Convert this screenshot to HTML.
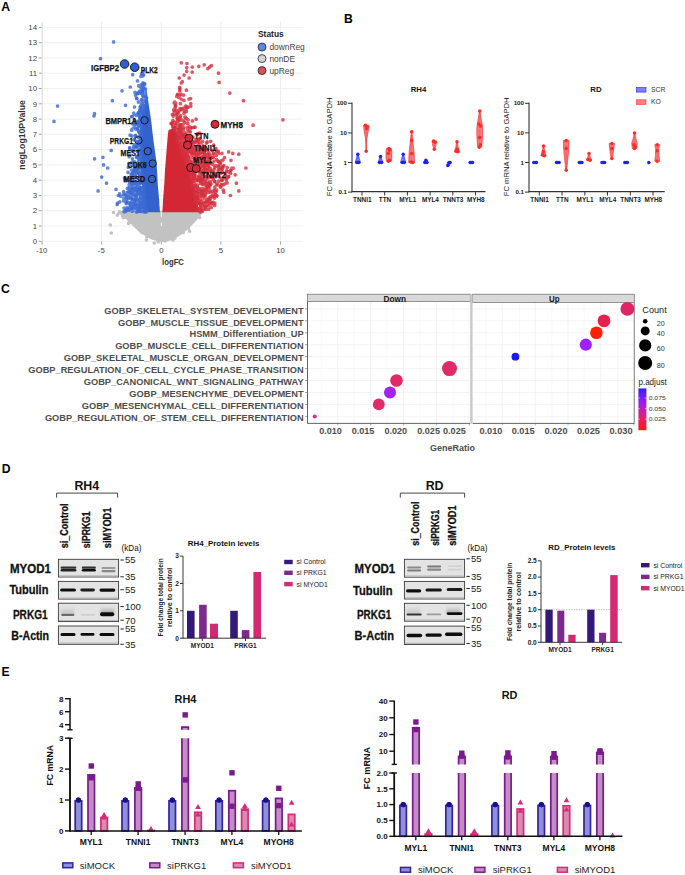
<!DOCTYPE html>
<html><head><meta charset="utf-8"><style>
html,body{margin:0;padding:0;background:#fff;overflow:hidden}
svg{display:block;font-family:"Liberation Sans",sans-serif}
</style></head><body>
<svg width="685" height="875" viewBox="0 0 685 875">
<text x="1.2" y="11.1" font-size="12.2" font-weight="bold">A</text>
<line x1="42" y1="241.3" x2="303" y2="241.3" stroke="#efefef" stroke-width="0.9"/>
<line x1="42" y1="226" x2="303" y2="226" stroke="#efefef" stroke-width="0.9"/>
<line x1="42" y1="210.7" x2="303" y2="210.7" stroke="#efefef" stroke-width="0.9"/>
<line x1="42" y1="195.5" x2="303" y2="195.5" stroke="#efefef" stroke-width="0.9"/>
<line x1="42" y1="180.2" x2="303" y2="180.2" stroke="#efefef" stroke-width="0.9"/>
<line x1="42" y1="164.9" x2="303" y2="164.9" stroke="#efefef" stroke-width="0.9"/>
<line x1="42" y1="149.6" x2="303" y2="149.6" stroke="#efefef" stroke-width="0.9"/>
<line x1="42" y1="134.3" x2="303" y2="134.3" stroke="#efefef" stroke-width="0.9"/>
<line x1="42" y1="119.1" x2="303" y2="119.1" stroke="#efefef" stroke-width="0.9"/>
<line x1="42" y1="103.8" x2="303" y2="103.8" stroke="#efefef" stroke-width="0.9"/>
<line x1="42" y1="88.5" x2="303" y2="88.5" stroke="#efefef" stroke-width="0.9"/>
<line x1="42" y1="73.2" x2="303" y2="73.2" stroke="#efefef" stroke-width="0.9"/>
<line x1="42" y1="57.9" x2="303" y2="57.9" stroke="#efefef" stroke-width="0.9"/>
<line x1="42" y1="42.7" x2="303" y2="42.7" stroke="#efefef" stroke-width="0.9"/>
<line x1="42" y1="27.4" x2="303" y2="27.4" stroke="#efefef" stroke-width="0.9"/>
<line x1="42.1" y1="22" x2="42.1" y2="241.3" stroke="#ececec" stroke-width="0.9"/>
<line x1="101.7" y1="22" x2="101.7" y2="241.3" stroke="#ececec" stroke-width="0.9"/>
<line x1="161.3" y1="22" x2="161.3" y2="241.3" stroke="#ececec" stroke-width="0.9"/>
<line x1="220.9" y1="22" x2="220.9" y2="241.3" stroke="#ececec" stroke-width="0.9"/>
<line x1="280.5" y1="22" x2="280.5" y2="241.3" stroke="#ececec" stroke-width="0.9"/>
<line x1="42.3" y1="22" x2="42.3" y2="241.8" stroke="#dedede" stroke-width="0.9"/>
<line x1="38.7" y1="241.3" x2="41.7" y2="241.3" stroke="#999" stroke-width="0.9"/>
<text x="37" y="244" font-size="7.8" text-anchor="end" fill="#444">0</text>
<line x1="38.7" y1="226" x2="41.7" y2="226" stroke="#999" stroke-width="0.9"/>
<text x="37" y="228.7" font-size="7.8" text-anchor="end" fill="#444">1</text>
<line x1="38.7" y1="210.7" x2="41.7" y2="210.7" stroke="#999" stroke-width="0.9"/>
<text x="37" y="213.4" font-size="7.8" text-anchor="end" fill="#444">2</text>
<line x1="38.7" y1="195.5" x2="41.7" y2="195.5" stroke="#999" stroke-width="0.9"/>
<text x="37" y="198.1" font-size="7.8" text-anchor="end" fill="#444">3</text>
<line x1="38.7" y1="180.2" x2="41.7" y2="180.2" stroke="#999" stroke-width="0.9"/>
<text x="37" y="182.9" font-size="7.8" text-anchor="end" fill="#444">4</text>
<line x1="38.7" y1="164.9" x2="41.7" y2="164.9" stroke="#999" stroke-width="0.9"/>
<text x="37" y="167.6" font-size="7.8" text-anchor="end" fill="#444">5</text>
<line x1="38.7" y1="149.6" x2="41.7" y2="149.6" stroke="#999" stroke-width="0.9"/>
<text x="37" y="152.3" font-size="7.8" text-anchor="end" fill="#444">6</text>
<line x1="38.7" y1="134.3" x2="41.7" y2="134.3" stroke="#999" stroke-width="0.9"/>
<text x="37" y="137" font-size="7.8" text-anchor="end" fill="#444">7</text>
<line x1="38.7" y1="119.1" x2="41.7" y2="119.1" stroke="#999" stroke-width="0.9"/>
<text x="37" y="121.7" font-size="7.8" text-anchor="end" fill="#444">8</text>
<line x1="38.7" y1="103.8" x2="41.7" y2="103.8" stroke="#999" stroke-width="0.9"/>
<text x="37" y="106.5" font-size="7.8" text-anchor="end" fill="#444">9</text>
<line x1="38.7" y1="88.5" x2="41.7" y2="88.5" stroke="#999" stroke-width="0.9"/>
<text x="37" y="91.2" font-size="7.8" text-anchor="end" fill="#444">10</text>
<line x1="38.7" y1="73.2" x2="41.7" y2="73.2" stroke="#999" stroke-width="0.9"/>
<text x="37" y="75.9" font-size="7.8" text-anchor="end" fill="#444">11</text>
<line x1="38.7" y1="57.9" x2="41.7" y2="57.9" stroke="#999" stroke-width="0.9"/>
<text x="37" y="60.6" font-size="7.8" text-anchor="end" fill="#444">12</text>
<line x1="38.7" y1="42.7" x2="41.7" y2="42.7" stroke="#999" stroke-width="0.9"/>
<text x="37" y="45.3" font-size="7.8" text-anchor="end" fill="#444">13</text>
<line x1="38.7" y1="27.4" x2="41.7" y2="27.4" stroke="#999" stroke-width="0.9"/>
<text x="37" y="30.1" font-size="7.8" text-anchor="end" fill="#444">14</text>
<line x1="42.1" y1="241.6" x2="42.1" y2="244.6" stroke="#999" stroke-width="0.9"/>
<text x="41.7" y="253.1" font-size="7.8" text-anchor="middle" fill="#444">-10</text>
<line x1="101.7" y1="241.6" x2="101.7" y2="244.6" stroke="#999" stroke-width="0.9"/>
<text x="101.3" y="253.1" font-size="7.8" text-anchor="middle" fill="#444">-5</text>
<line x1="161.3" y1="241.6" x2="161.3" y2="244.6" stroke="#999" stroke-width="0.9"/>
<text x="161.3" y="253.1" font-size="7.8" text-anchor="middle" fill="#444">0</text>
<line x1="220.9" y1="241.6" x2="220.9" y2="244.6" stroke="#999" stroke-width="0.9"/>
<text x="220.9" y="253.1" font-size="7.8" text-anchor="middle" fill="#444">5</text>
<line x1="280.5" y1="241.6" x2="280.5" y2="244.6" stroke="#999" stroke-width="0.9"/>
<text x="280.5" y="253.1" font-size="7.8" text-anchor="middle" fill="#444">10</text>
<text x="173" y="264.9" font-size="8.4" text-anchor="middle" font-weight="bold" fill="#333" textLength="21.9" lengthAdjust="spacingAndGlyphs">logFC</text>
<text x="22" y="137.8" font-size="8.4" text-anchor="middle" font-weight="bold" fill="#333" textLength="69.5" lengthAdjust="spacingAndGlyphs" transform="rotate(-90 22 134.9)">negLog10PValue</text>
<polygon points="118,212.5 121,215 125.3,218.5 133,226 140.7,233.5 151.4,239.6 161.3,242.3 168.2,241.2 175.9,238.1 186.6,230.5 195.8,221.2 202,214 203,211 118,211" fill="#c2c2c2"/>
<line x1="161.3" y1="212" x2="161.3" y2="226" stroke="#fff" stroke-width="0.9"/>
<path d="M173 234.2h0M158 215.4h0M165.3 227.8h0M190.1 211.3h0M178.4 213.8h0M199.6 217.4h0M128.3 211.5h0M142.9 224.3h0M189.2 219.9h0M146.8 225.9h0M145.4 229.2h0M165.4 217.9h0M143 212.7h0M119.7 211.7h0M151.8 215h0M170.2 237.4h0M156.7 222h0M160.4 237.9h0M173.8 235.9h0M194.8 217.2h0M183.5 224.2h0M140.5 221.3h0M147.4 235.9h0M186.4 219.8h0M181 216.7h0M159.6 235.3h0M179.7 217.2h0M177.8 223.6h0M146.1 230.5h0M163.9 212.3h0M179.8 233.3h0M183.6 212.5h0M188.5 228.1h0M177.2 222h0M173.1 235.4h0M174.4 233.4h0M155.2 230.7h0M143.1 212.9h0M157.6 220.5h0M172 228.4h0M151.7 216.6h0M193.5 220.2h0M165.4 218.9h0M153.1 236.9h0M174.9 220h0M146.4 240h0M148.8 222.4h0M134.2 217.1h0M140.1 224.1h0M138.2 211.9h0M158.5 230.5h0M171.2 234.3h0M164.3 218.8h0M141.1 226.1h0M157.5 219.7h0M185 228.5h0M168.4 232.9h0M174 224.3h0M195.5 213.5h0M160.8 218.6h0M189.6 231.2h0M194.5 214.3h0M125.2 217.1h0M202 211.7h0M171.8 221.7h0M198.1 211.1h0M154.3 218h0M170.8 224.6h0M180.3 211.7h0M173.9 225.2h0M137.8 227h0M125.1 214.9h0M148.4 234h0M135 218.7h0M172.1 219.2h0M149.8 211.2h0M154.5 238.4h0M162.7 228.5h0M168.2 234.1h0M172.7 222.3h0M127.2 212h0M148.7 220.7h0M198.3 211.8h0M136.9 216.5h0M127.8 216.9h0M135 224.3h0M158.2 241.9h0M177.5 217.1h0M178.1 233.7h0M128 213.6h0M142.6 223.8h0M128 215.1h0M154.2 243.1h0M162.9 219.3h0M117.3 215.3h0M137 221.5h0M161.8 221.3h0M165.1 241h0M170.6 238.6h0M164.9 224.5h0M168 220.3h0M173.3 233.6h0M193 214.5h0M123.3 217.8h0M154 227.9h0M131.6 216.9h0M153.2 217.9h0M185.7 227.1h0M168.3 222.8h0M183.3 232.6h0M128.6 216h0M178.2 216.8h0M154 219.8h0M169.3 237.4h0M164 212.5h0M181.5 223h0M154.5 222.8h0M191.8 221.9h0M168.5 224.3h0M139.2 213.6h0M167.1 219.6h0M185.6 215.2h0M146.5 215.4h0M172.6 221.2h0M190.4 220.3h0M130.1 220.8h0M142.6 220.5h0M158.7 232.7h0M164.6 236.3h0M147.6 228.6h0M178.6 225.8h0M150.2 212.8h0M172.1 220.7h0M182.1 220.2h0M198.9 214.1h0M141.9 216.2h0M173 240.1h0M174 235.1h0M167.5 237.6h0M153.7 226.1h0M167.1 228.9h0M130 213.2h0M170.3 230.6h0M179.6 233.7h0M121.9 213.4h0M118.3 213.8h0M157 231.9h0M151.5 226.7h0M170.5 220.2h0M179 224.8h0M140.5 225h0M141 218.8h0M153.2 215h0M146.9 236.8h0M149.5 225.6h0M155.4 223.9h0M179.3 225.3h0M154.6 228.6h0M187.4 221.7h0M199.4 211.6h0M188.5 222h0M153.3 216.3h0M158 216.9h0M128.6 223.4h0M125.4 215h0M130.1 222.3h0M188 211.8h0M175.1 220.2h0M148.1 224.2h0M167.7 216h0M165.4 233.8h0M161.4 229.2h0M149.8 219.1h0M163.9 233.1h0M141.6 212.3h0M156 234h0M163.8 220.8h0M193.3 211.2h0M146.4 224.8h0M167.5 213.9h0M173.6 215.3h0M199.9 212.7h0M184.5 227.3h0M182.7 229.2h0M172 214.4h0M175 238.1h0M186.3 225.6h0M133.2 216h0M153.7 229.6h0M175.8 212.6h0M155.8 227.8h0M201.4 211.5h0M138.2 224.8h0M164.5 240.2h0M166.4 231.2h0M153.1 235.8h0M193.9 217.2h0M122.6 215.8h0M173.7 230.3h0M187.4 218.8h0M113.5 212.5h0M110.3 225h0M111.3 233h0" stroke="#c2c2c2" stroke-width="3.6" stroke-linecap="round" stroke-opacity="1" fill="none"/>
<polygon points="160,212.3 159.4,205 159.2,200 158.7,195 158.3,190 157.8,185 157.5,180 157.3,175 157,170 156.6,165 156.2,160 155.5,155 154.8,150 154.1,145 153.4,140 152.8,135 152.2,130 151.7,125 151.1,120 150.3,115 149.6,110 148.8,105 148,100 147.3,95 146.6,90 146,85 145.5,80 145.5,80 146,85 146.2,90 146.1,95 146,100 144.6,105 143.2,110 141.9,115 140.5,120 140.4,125 140.2,130 140.1,135 140,140 140.1,145 140.2,150 140.4,155 140.5,160 140.8,165 141,170 141.5,175 142,180 142.5,185 143,190 143.5,195 144,200 144.4,205 144.8,210 145,212.3" fill="#3462cc"/>
<polygon points="162.3,212.3 162.8,205 163,200 163.4,195 163.8,190 164.2,185 164.5,180 164.7,175 165,170 165.4,165 165.8,160 166.2,155 166.6,150 167,145 167.4,140 167.8,135 168.6,130 174.4,128 176.3,133 178.1,138 179.4,143 181.1,148 183,153 184.8,158 186.6,163 188.3,168 189.9,173 191.3,178 192.8,183 194.1,188 195.3,193 196.5,198 197.5,203 198.3,208 199.5,212.3" fill="#d42734"/>
<path d="M139.9 86.4h0M141.6 187.7h0M133.6 195.1h0M141.2 175.1h0M135.3 121.4h0M135.2 169.2h0M132.3 203.6h0M136.7 188h0M133.8 139.7h0M126.2 178.3h0M144.8 211.6h0M133.9 203.1h0M129.7 147.9h0M138.4 113h0M135.2 188.7h0M144.4 110.9h0M146.3 210.7h0M139.1 141.9h0M101.7 177.1h0M117.2 204.5h0M136.6 146.4h0M138.7 159h0M141.6 128.1h0M133.7 203.2h0M142 103.5h0M138.5 165.2h0M138.3 122.1h0M141 84.9h0M135.7 176.3h0M142.4 172.2h0M136.5 183.2h0M142.5 107.8h0M134 114.1h0M132 184.4h0M141.6 86.7h0M137.6 193.7h0M145 210.4h0M138.1 137.2h0M139.6 167.8h0M129.3 209h0M138.3 149.4h0M127.4 188.4h0M132.7 74.7h0M137.1 190h0M137.1 169.2h0M144.9 97h0M139 190.4h0M143 88.1h0M140.4 154.6h0M140.6 163.9h0M143.3 187.8h0M138 112.9h0M136.1 197.4h0M138.9 132.1h0M134.8 181.9h0M143.4 84.1h0M139.7 92.9h0M144.3 205.3h0M137.5 193.8h0M138.1 165.6h0M145.7 105.7h0M140.7 206.2h0M142 201.5h0M139.7 140.9h0M138.4 102.1h0M142.2 191.9h0M136.3 204.7h0M136.5 183.5h0M140.1 210.8h0M137.4 128.5h0M125.3 211.6h0M136.5 169.5h0M143.2 200.9h0M130.7 205.3h0M141.2 105.1h0M141.7 204h0M136.2 123.8h0M143.3 196.9h0M102.9 157.3h0M124.1 208h0M136.9 157h0M134.2 177.4h0M126.1 211h0M94.5 158.8h0M144.5 108.1h0M124.2 194h0M133.7 171.2h0M141.9 182.3h0M139 195h0M132.4 173.5h0M143.3 184.1h0M132.5 158.9h0M142.6 206.4h0M145.3 204.7h0M107.7 168h0M131.7 199.1h0M143.6 193.3h0M138.7 101.9h0M142.9 178.7h0M137.7 211.4h0M140.4 118.6h0M137.3 93.7h0M134.5 107h0M142.1 113.3h0M136.5 98.1h0M138.2 190.1h0M138.9 167.1h0M140.9 200.2h0M138.5 183.2h0M143.2 106.9h0M140.6 175.1h0M143.7 192.1h0M138.6 85.8h0M137.6 151.5h0M127.1 201.8h0M134.9 171.2h0M133.7 113.1h0M135.6 172h0M139 165.5h0M140.5 176.5h0M124 211.6h0M133.4 199h0M128 208.7h0M144.8 205.5h0M140.9 180.1h0M145.8 104.8h0M137.4 165.8h0M142 110.4h0M141.2 193.2h0M145.2 200.7h0M128 172.3h0M133.2 180.8h0M137.4 122.1h0M144.3 110.9h0M130.3 87h0M139.8 109.8h0M144.5 106.3h0M94.5 113.7h0M54 121.4h0M118.4 195.5h0M138 123.2h0M129.7 181.8h0M138.6 209.1h0M134.9 181.7h0M142.4 91.7h0M143.9 186h0M134.6 199.8h0M143.1 107.3h0M128.8 163.7h0M141.6 207.3h0M143.1 207.7h0M132.1 208.1h0M138.5 164.9h0M130.5 192.7h0M140.7 192h0M146.1 208.6h0M132.3 150.7h0M143.7 113h0M125.2 194.6h0M144.3 108.2h0M142.7 95.8h0M142.2 105.2h0M131.3 188.1h0M138.9 199.1h0M140.6 198.5h0M138.4 145.3h0M136.8 156.4h0M141.1 152.6h0M140.7 106.1h0M140.3 142.1h0M131.3 198.1h0M141.2 126.7h0M139 201.4h0M140.1 189h0M143.2 196.8h0M142.2 205h0M144.7 105.3h0M138.7 173.1h0M138.9 173h0" stroke="#3a69d4" stroke-width="3.7" stroke-linecap="round" stroke-opacity="0.8" fill="none"/>
<path d="M194.2 177.5h0M210.3 170h0M282.9 119.8h0M220 162.2h0M210.7 141.3h0M196.9 187.6h0M197.7 162.7h0M221.9 153.4h0M183.2 134h0M180.5 148h0M187.1 127.5h0M230.6 170.6h0M207.5 204.3h0M203.2 188.3h0M221.1 184.6h0M195.7 165.1h0M220.5 162.8h0M177.9 133h0M201.5 203.7h0M192.8 157.7h0M228.6 151.9h0M191.2 147.9h0M180.6 115.7h0M187.9 144.8h0M182.7 147h0M210.2 168.3h0M190.4 165.4h0M194.5 154h0M216.4 155.3h0M210.7 196.6h0M192.8 176.8h0M174.3 127.3h0M193.9 146.4h0M228.6 176.7h0M176.7 137.4h0M184.1 150.1h0M208.7 156.3h0M199.8 167h0M190.9 163.7h0M199.3 180.4h0M192.8 150.8h0M186.7 67.7h0M184.1 141.6h0M200.6 178.8h0M199.5 163.9h0M209.4 184.8h0M191.7 177.2h0M187.6 168.8h0M208.1 154.3h0M196.9 165.5h0M201.2 188.5h0M176.7 110.7h0M186.9 135.2h0M175.3 105.9h0M218.5 153.5h0M178.1 123.3h0M205.2 157.3h0M201.1 191h0M185.4 146.7h0M185.2 163.2h0M211.1 158.3h0M203.3 171.3h0M201.5 195h0M181.8 131.2h0M204.6 192.4h0M183.5 136.3h0M206 190.2h0M211.4 176.8h0M194.5 192.5h0M206.2 176.6h0M187.7 129.3h0M189.1 157h0M200.7 181.3h0M202.9 166h0M183.9 138.9h0M180.6 137.6h0M189 146.1h0M181.3 62.8h0M174.6 131.5h0M194.4 188.9h0M195.4 191.4h0M201.6 203.4h0M208.3 202.5h0M172.7 126.9h0M192.5 167h0M206.9 186.4h0M194.9 146.7h0M204.6 167.5h0M206.6 150.1h0M208.6 209.2h0M216.2 191.5h0M200.3 192.9h0M195.9 199.9h0M191.8 153.6h0M176.1 133.4h0M177.4 121.4h0M193.9 127.3h0M206 185.6h0M196.2 164.9h0M189.9 145.9h0M198.6 188.9h0M181.2 109.4h0M180.5 146h0M223.9 165.7h0M189.1 151.6h0M202.6 193.6h0M181.3 133.9h0M191 164h0M194.6 195.2h0M230.4 195.5h0M183.6 129.8h0M227.1 182.9h0M197.7 179.6h0M205.5 192.8h0M207.1 156h0M202.7 184.3h0M188.7 170.5h0M235.2 174.8h0M186.3 155.8h0M238.8 154.2h0M215.6 165.7h0M214.2 196.1h0M193 142.6h0M200.9 177.4h0M210.7 192h0M188.8 156.2h0M186.4 90.2h0M205.2 195.8h0M176.1 110.3h0M178.8 129.3h0M194.6 196.1h0M196.9 163.6h0M186.5 151.5h0M226.5 170.9h0M201.8 189.1h0M191.4 167.9h0M223.2 178.5h0M188.1 119.9h0M197.6 150.5h0M253.1 125.2h0M197.3 192h0M223 160.1h0M194.1 171.8h0M196.4 158.2h0M201.1 209h0M180.4 103.7h0M185.3 154h0M193 175.7h0M180.3 130.9h0M182 148.9h0M184.8 154.8h0M200.6 205.2h0M188.2 169.8h0M178.7 131.9h0M203.1 145.9h0M178.9 130h0M197.4 140.9h0M187.3 167.5h0M226.9 178.2h0M195.6 191.3h0M218.5 73.2h0M221.4 169.4h0M191.1 161.1h0M209.4 186.6h0M206.1 169.6h0M196.9 193.8h0M184 140.7h0M201.1 171.4h0M185.2 155.4h0M183.6 135.8h0M200.2 212h0M198.6 203.2h0M206.7 205.3h0M207.5 172.6h0M179.9 129.6h0M214.6 153.8h0M191.6 170h0M196.3 194.1h0M177.9 138.9h0M202.5 179.7h0M176 132.5h0M180.7 124.8h0M197.8 161.2h0M183.4 152.7h0M179.3 117.8h0M190.5 142.4h0M196 157.3h0M197.7 133.9h0M188.6 148.3h0M218.7 181.2h0M191.8 148.3h0M208 169.3h0M198 179.5h0M196.9 164h0M203.2 152.8h0M171.1 123.5h0M187.5 150.3h0M200.4 154.1h0M191.7 161.9h0M178.4 144.2h0M210.5 162.7h0M218.8 176.4h0M204.4 205.7h0M221.3 178.3h0M204.1 202.9h0M202.3 180h0M190.9 178.3h0M178.2 112.6h0M196 198.2h0M187.1 161.2h0M185.2 158.4h0M194.3 172.1h0M191 146.3h0M197.4 198.6h0M180 125.1h0M176.9 114.3h0M195.1 188.2h0M208.4 200.2h0M197.7 196.1h0M200 149.5h0M180 136.9h0M184.2 150.1h0M188.9 166.7h0M186.1 109.2h0M186.5 142.4h0M181.1 143.1h0M217.1 166.3h0M218.5 167.2h0M180.7 147.3h0M179.9 139.1h0M174.5 129.3h0M180.5 144.9h0M205 209.5h0M197.6 154.6h0M209.5 203h0M179.4 131h0M204.1 153.6h0M188.1 170.4h0M193.6 180.9h0M196.2 197.6h0M214.4 181.7h0M195.8 191.2h0M186.9 142.6h0M177.6 94.3h0M209.4 162.8h0M191 177h0M184 100.4h0M211 184.1h0M183.7 150.5h0M207.1 209.1h0M197.4 187.5h0M179.7 90.8h0M185.7 106h0M187.3 156.3h0M196.4 197.7h0M193.5 174.6h0M194.3 170.8h0M191.8 168h0M176.5 123.5h0M194.5 152.9h0M181.2 147.5h0M182.9 129.1h0M178.5 124.1h0M221.7 180.5h0M203.2 156.9h0M207.8 161h0M213.3 179.6h0M223.3 190h0M196.6 192.8h0M184.2 111.1h0M215.1 192.4h0M201.1 211.4h0M185.2 106.5h0M194.5 158.8h0M202.3 174.1h0M221.2 160.9h0M204.8 150.2h0M211.4 65.6h0M190.9 136.6h0M205.1 194.9h0M220.5 187.2h0M245.9 168h0M203.2 170.7h0M201 172.2h0M216.3 154.7h0M215.9 148.6h0" stroke="#d42e3c" stroke-width="3.7" stroke-linecap="round" stroke-opacity="0.8" fill="none"/>
<path d="M132.2 201.1h0M132.1 193.7h0M140.9 117.9h0M142.8 113.5h0M143 194.6h0M138.4 151.2h0M144.2 198.1h0M141 148.2h0M136.2 205.6h0M140.1 193.6h0M128.4 198.6h0M138.9 210.5h0M143.3 191.6h0M139.3 203.4h0M136.1 184.3h0M135.8 129.1h0M143.7 96.7h0M143.7 96.8h0M145.3 94.7h0M138.8 125.4h0M137 207.5h0M141.3 190.3h0M135 92.4h0M139.4 115.9h0M135.6 165.3h0M135.6 198.8h0M142.4 202.7h0M135.4 186.7h0M134.5 176.9h0M145.4 89h0M133.1 205.7h0M143.4 205.2h0M130.1 135.2h0M141 108.3h0M135.9 200.3h0M139.5 183.1h0M142.6 90.5h0M136.7 212h0M140.9 145.3h0M138.3 121.3h0M139.3 181.3h0M130 202.9h0M133.5 149.6h0M135.6 147.3h0M133.7 202.1h0M133 210.9h0M140.3 134.4h0M140.8 150.8h0M57.6 106.1h0M139.5 174.8h0M119.8 201.8h0M140.3 140.6h0M129.8 191h0M126.3 203.7h0M129.1 188.4h0M139.3 204.6h0M141.1 165.9h0M139.8 155.6h0M144.3 84h0M133.3 186.6h0M143.8 108.2h0M142.8 183.2h0M139.8 182.4h0M140.3 155.8h0M116 189.3h0M135.1 147.7h0M144.8 211.6h0M138.9 189.8h0M132.5 207.9h0M138.4 167.6h0M141.7 158.6h0M141.3 139.1h0M128 196.6h0M141.5 130h0M135.8 195.1h0M134.4 144.5h0M134.8 181.1h0M139.3 91.3h0M141.3 204.5h0M136.3 173.2h0M132.6 199.5h0M140.4 198.4h0M94 116h0M141.3 138.5h0M137.9 141.5h0M134.5 119.6h0M140.1 157.3h0M143.9 202.2h0M135.9 165.9h0M143.5 199h0M134.7 170.1h0M125.5 105.3h0M144 93.1h0M139.6 187.9h0M138.4 208.8h0M141 76.3h0M140.9 112.1h0M137.1 169.8h0M135.6 145.7h0M134.8 177.2h0M112.4 100.7h0M132.8 190.9h0M133.9 172.5h0M132 173.7h0M139 200.6h0M144.4 190h0M145 206.4h0M133.6 169.9h0M143.6 75h0M131.7 116.5h0M140.4 207.7h0M144 201.9h0M127 207.9h0M137.4 93.4h0M138.6 113.7h0M131.4 177.6h0M136 197.7h0M138.2 172h0M141.9 160h0M140.6 110.7h0M131.5 170.1h0M143.1 210.1h0M135 187.2h0M140.5 145.7h0M136.6 166.4h0M127.2 192.7h0M138.1 211.1h0M135.4 95.1h0M142.2 166.8h0M139.1 121.4h0M135.2 124.7h0M142.1 192.5h0M141.1 133.6h0M140.4 159.1h0M134.8 206.9h0M140.2 157.1h0M142.6 196.1h0M136.3 190.5h0M135 174.5h0M139.9 202h0M144.9 91.6h0M134.8 161.8h0M133.5 186.1h0M140.6 194.3h0M141.2 124.7h0M100.5 58.7h0M132.9 189.9h0M146.6 98h0M132.1 211.2h0M127.3 209.1h0M140.9 191h0M137.3 168h0M138.9 206.4h0M140.1 123.2h0M135.3 208.7h0M139.8 211.1h0M132.3 189h0M143.9 207.4h0M144.9 89.4h0M111.2 150.4h0M140.2 156.1h0M141.5 99.6h0M137.7 168.6h0M139.7 208.1h0M126.8 180.6h0M139.6 176.3h0M141.9 75.8h0M140.8 197h0M138.8 200.1h0M139.8 149.4h0M135.7 136.4h0M145.8 101.4h0M145 94.2h0M134.2 186h0M126.4 197.8h0M131.9 165.4h0M142.9 76h0M113.6 41.9h0M145 195.3h0" stroke="#3a69d4" stroke-width="3.7" stroke-linecap="round" stroke-opacity="0.8" fill="none"/>
<path d="M206.9 157.2h0M202.5 180.1h0M193.6 171.5h0M212.8 164.5h0M198.6 193.9h0M175.7 103.2h0M177.1 127.3h0M218.5 173.7h0M200.4 183.4h0M192.4 120.9h0M203.9 182.4h0M188 171.1h0M178.6 97.3h0M201.9 184h0M186.8 107.2h0M209.4 189.3h0M186.4 111.6h0M198.3 192.8h0M199.3 190.3h0M178.8 137.6h0M191.2 173.4h0M196.7 170.1h0M195.6 185.7h0M201.7 158.3h0M192.9 137.2h0M201.5 162.1h0M208.5 164.1h0M176.9 135.6h0M179.8 146.1h0M186.1 164.8h0M218.3 151.3h0M179.3 110.7h0M208.1 187.8h0M198.8 140.1h0M181.6 142.9h0M194.7 171.6h0M197.9 180.6h0M172.3 122.3h0M226.3 180.1h0M192.7 186.9h0M198.9 196.6h0M199 152.6h0M213.1 202.3h0M198.2 176.3h0M203 152.6h0M200.5 196.2h0M195.9 178.4h0M187.5 164.1h0M186.4 118.6h0M194.3 167.5h0M193.7 191.1h0M187.8 161.2h0M186.5 139.8h0M190.7 167.2h0M191.1 152.3h0M196.5 197.5h0M189.1 78h0M179.6 95.6h0M198.5 147.5h0M197.1 203.6h0M209.6 67.1h0M191.1 164.8h0M206.5 143.1h0M213.7 145h0M197.1 196.1h0M218.7 165.6h0M179 120.5h0M217.7 184.9h0M182.6 147.1h0M172.9 120.4h0M196.5 198.7h0M196 139.4h0M187 145.6h0M202.6 196.2h0M195.6 197.8h0M201.5 210.6h0M196.4 178.6h0M197.8 155.1h0M209 185.2h0M194.9 167.4h0M198 167.6h0M194.8 190h0M199.7 142.6h0M173.3 116.1h0M178.6 136.9h0M189.2 148.2h0M197.3 168.6h0M208.8 152.8h0M189.5 175h0M211.7 203.5h0M208.6 166.2h0M195.5 164.4h0M213.8 173h0M200 192.7h0M218.3 175.1h0M185.7 153.5h0M194.2 152.9h0M190.1 166.6h0M236.4 183.2h0M197.1 191.3h0M183.2 124.1h0M191.9 138.2h0M191.8 165.1h0M181.5 148.9h0M195.1 127.2h0M194.4 170.7h0M192.4 169.6h0M225.1 173.3h0M176 133.1h0M178 127.7h0M193.7 186h0M185.8 155.8h0M202.7 181.5h0M181.2 99.1h0M190.6 98.7h0M193.2 175.6h0M187.6 156.4h0M181.7 152.4h0M180.4 144.1h0M201 143h0M204 163.2h0M197.5 201.8h0M222.9 184.9h0M228.9 171.9h0M177.6 118.5h0M197.3 203.8h0M213.2 157.4h0M174.8 102.1h0M180.1 109.8h0M187.5 166.2h0M200 207.7h0M213.2 153.6h0M195.8 155.1h0M180 108.5h0M191.7 176.6h0M199.9 203.3h0M185.2 154h0M199 198.2h0M215.9 174.9h0M175.6 125.5h0M214.5 189.9h0M198.8 153.3h0M214.5 198.1h0M186.1 135.9h0M182.5 150.8h0M188.3 144.6h0M177.2 95.6h0M196.1 119.2h0M207.6 164h0M180.4 138.5h0M202.5 191.4h0M196.3 202h0M231 160.3h0M220.6 168.3h0M227.8 171.5h0M199.6 157.5h0M183 108.3h0M191.4 151.9h0M221.2 173.1h0M215.2 194.2h0M181.3 136.5h0M205.7 206.7h0M190.4 131.8h0M209.9 162.6h0M202.4 180.3h0M211.3 170.9h0M186.5 155.5h0M184.6 122.3h0M208.4 183.1h0M203.7 172.3h0M181.6 151.3h0M180.6 125.9h0M199.7 203.5h0M187.8 170.8h0M199.5 160.8h0M189.9 174.5h0M185.5 149.2h0M205.8 156.9h0M207.9 163.5h0M199.5 164.2h0M190.8 106.3h0M181.1 151.7h0M184.6 134.5h0M194.8 186h0M187.4 159.4h0M174.2 114.5h0M186.9 168.2h0M189.4 147.9h0M203.2 156.6h0M183.6 142.8h0M214.8 203.1h0M202.6 183.4h0M192.2 166.8h0M183.8 136.1h0M199.1 170.9h0M208.9 190.2h0M211.5 170.7h0M183.9 155.3h0M210.5 171.5h0M210.1 199.2h0M175.2 126.3h0M198.2 156h0M189.6 171.7h0M179.9 89h0M191.3 170.3h0M183.2 126.8h0M209 205.4h0M189.5 126.8h0M190.9 164.4h0M202.9 159.7h0M208.7 177.8h0M189.1 158.8h0M184.6 157.6h0M202.6 141.4h0M191.4 144h0M204.8 169h0M210.4 184.8h0M189 99h0M206.8 199.2h0M204.2 182.4h0M214.7 167.5h0M191.5 127.8h0M174.2 111.9h0M181.5 124.7h0M193 178.5h0M186.6 150h0M197.1 156.7h0M205.2 181.6h0M209.3 153.8h0M188 157.2h0M181.2 127.6h0M183.5 127.5h0M198 209.9h0M193.3 173h0M218 161.3h0M238.8 190.9h0M198.8 66.3h0M193.1 141.7h0M216.6 190.2h0M188.1 150.3h0M202.6 179.8h0M204 198.1h0M189.5 144.4h0M199.2 180.2h0M199.9 152.8h0M209.4 197.7h0M182.6 146.9h0M195.7 161.2h0M176.8 96.4h0M178.4 127.2h0M182.2 135.2h0M213.8 177.2h0M183.1 147.7h0M199.8 138.4h0M196.1 201.2h0M187.9 160.4h0M200.5 199.5h0M174.2 102.9h0M200.3 179.7h0M216.5 196h0M186.7 151.8h0M199.8 152.6h0M195.5 149h0M208.2 164.2h0M195.3 185.6h0M171.5 123.7h0M213.9 161.4h0M204.2 195h0M205.7 201.9h0M195.1 141.4h0M193.7 149.6h0M224.5 157.5h0M194.8 175.9h0M204.2 152.2h0M222.8 166.9h0M221 186h0M201.8 172.1h0M219 169.6h0M183.6 147.2h0M191.4 169.9h0M205.3 165.4h0M200 190.4h0M211.2 207.4h0M181.1 132.6h0M210.1 155.7h0" stroke="#d42e3c" stroke-width="3.7" stroke-linecap="round" stroke-opacity="0.8" fill="none"/>
<path d="M145.4 101.2h0M137.8 122.7h0M140.8 116.5h0M145.8 104.8h0M140 168.7h0M139.9 143.7h0M132.3 116.5h0M123.8 198.6h0M138.2 144.2h0M136.7 193.4h0M146.2 211.8h0M134.1 127.2h0M141.1 93.3h0M135.8 201.6h0M126.5 195.9h0M129.2 156.7h0M139 113.8h0M140.6 188.6h0M126.2 199.3h0M98.1 190.9h0M135.9 172h0M143.8 85.7h0M141.4 130.9h0M135.8 171.3h0M140 188.9h0M138.6 189.5h0M135.2 195.3h0M132.1 175.7h0M143 85h0M128.8 210.2h0M144.7 83.9h0M128.7 191.7h0M142.9 201.6h0M145.1 100.5h0M131.3 193.3h0M124 199.4h0M144.1 202.9h0M137.6 190.4h0M138 142.3h0M140.3 192h0M126 202.2h0M136.3 115.4h0M143.6 197.9h0M123.9 194.7h0M143.1 111.7h0M139.2 193.2h0M140.2 107.1h0M135.2 192.2h0M129.2 184.5h0M139.2 120.8h0M132.2 188.4h0M143.4 199h0M138 156.4h0M130.7 191.9h0M135.9 166.7h0M142.7 85.4h0M130.7 196.1h0M123.6 191.5h0M142.2 180.2h0M141.4 131.5h0M106.5 183.2h0M141 112.3h0M138.1 127.3h0M136.4 146.5h0M139.4 186.4h0M129.8 155.4h0M139.2 141.6h0M137.8 114.7h0M136.6 157.3h0M140 163.5h0M129.3 185.5h0M144.8 211.6h0M145.4 211.4h0M141.8 179.4h0M136.1 189.4h0M138 207.9h0M143 195h0M140.3 135.9h0M131.7 183.8h0M131.5 198.1h0M129.9 206.6h0M135.9 203.6h0M141 138.3h0M142.9 101.4h0M133.5 146.8h0M132.7 162h0M141.9 192.5h0M131.3 208.6h0M139.2 164.7h0M143 211.6h0M138.8 130.9h0M129.1 195.1h0M143 105h0M142.6 188h0M125 180.7h0M135.8 200.5h0M120.8 196.2h0M125.5 210.2h0M141.3 89.2h0M137.7 188.7h0M136.9 98.6h0M136.9 141.3h0M140 210.7h0M138.1 177.8h0M144.5 208.2h0M141.6 73.9h0M137.5 80.9h0M129.3 203.3h0M126.1 202.1h0M135.7 170.9h0M140.3 133.4h0M142.5 174.5h0M130 197.7h0M128.3 167.2h0M132.7 191.4h0M135.4 207.7h0M140.2 169.5h0M142.1 100.4h0M145.6 203.6h0M144.5 199.5h0M131.1 174.7h0M138.3 130.3h0M138.7 205.3h0M131.8 130.2h0M139.7 111.5h0M130.6 179.2h0M143.9 88.3h0M140.3 172h0M137.9 163.4h0M139.6 209.1h0M132 129.3h0M141.2 211.4h0M142.6 175.9h0M135.5 204.3h0M143.8 71h0M129.6 148.2h0M134.7 182.9h0M117.5 203.1h0M137.8 192.3h0M139.1 155h0M142 92.7h0M141.4 111h0M141 115.7h0M139.1 161.4h0M136 168.7h0M142.9 82.8h0M133 206.3h0M122 90.8h0M131.7 162.7h0M141.7 166h0M139.6 184h0M145 207.6h0M143.7 188.2h0M144.5 205.6h0M139.9 204.4h0M141.4 124.3h0M139.6 117.6h0M141.4 160.4h0M132.7 123.7h0M141.4 205.4h0M123.7 201h0M103.5 164.9h0M137.7 186.8h0M142.9 74.4h0M135.4 135.3h0M138.4 161.8h0M139.3 123.8h0M142.1 178.3h0M131.9 136.1h0M140.3 162.1h0M139.4 176.7h0M131.4 208.2h0M144.6 194.7h0M119.6 193.9h0M124.5 178.2h0M142.6 203.7h0M141.2 134.4h0M137 146.3h0M137.7 186.2h0" stroke="#3a69d4" stroke-width="3.7" stroke-linecap="round" stroke-opacity="0.8" fill="none"/>
<path d="M175.7 106h0M190.8 128.1h0M201.2 202.8h0M205.2 154h0M222.5 168.7h0M207.4 169.7h0M197.8 198.7h0M185 132.9h0M174.8 122h0M192.7 148.3h0M213 157h0M182 135h0M190.8 103.5h0M183.5 95.1h0M185.4 141h0M187.4 154.9h0M200.5 149.1h0M201.3 207.4h0M210.5 181.5h0M206.5 176.5h0M202.4 190.6h0M214.9 187.2h0M213.6 172.3h0M189 152.1h0M233.2 168.2h0M208.9 184.8h0M202.6 193.9h0M192 183.2h0M176.6 129.5h0M208.8 158.8h0M203.3 163.4h0M232 168.2h0M195.7 165.2h0M201.4 178.9h0M190.3 168.2h0M190.4 173.4h0M184.9 143.3h0M188.5 140.8h0M202.4 211h0M209.5 163.7h0M203.4 175.2h0M230.6 173.3h0M184.7 142.5h0M202.9 167.4h0M177.7 112.8h0M198.9 169.6h0M212.4 196.8h0M197.7 202.4h0M182.1 151.4h0M207.1 192.7h0M226 175.9h0M192.7 180.5h0M200.4 170.4h0M192.1 154.9h0M205.7 182.8h0M200 179.6h0M200 203.7h0M194.4 152.8h0M213.7 190.8h0M177.9 140.7h0M177.8 118.8h0M204.2 158.8h0M203.4 148h0M216.5 183.9h0M200 173.7h0M185.1 159h0M183.7 155.3h0M198 151.8h0M207.8 68.6h0M188 123.7h0M180.9 94.1h0M207.1 185.8h0M184 113.3h0M179.7 87.4h0M206.3 184.2h0M201 157.9h0M201 173.6h0M196.6 162h0M187.4 169.6h0M181.3 82.9h0M189 160.8h0M218.4 161.4h0M200.7 170.2h0M182.3 81.7h0M208.2 167.4h0M194.9 173.8h0M195.5 180.6h0M192.3 67.1h0M196.9 180.6h0M190.7 162h0M191.4 166h0M212 177.2h0M173.7 109.8h0M203.2 164.8h0M179.9 119.8h0M204.9 208.5h0M174.2 122.4h0M199 177.7h0M209.1 181.9h0M184.4 144.3h0M208.2 161.4h0M185.3 117h0M180.6 118.7h0M188.4 146.5h0M208.9 201.4h0M208.6 192.3h0M195.8 142.2h0M214.9 181.3h0M186 146.6h0M185.7 160.8h0M199.1 146.7h0M202.6 178.9h0M194.6 183.3h0M204.5 179.2h0M213.9 174.1h0M202.8 173.2h0M208.2 161.7h0M192.1 151.3h0M228.4 176.7h0M243.5 100.7h0M179.2 78h0M183.2 144.9h0M183.2 145.9h0M199.7 170h0M184.9 117.2h0M196.7 159h0M197.7 165.6h0M218.1 170.5h0M182.6 155.9h0M219.1 82.4h0M186.9 63.5h0M177.3 113.3h0M222.3 171.8h0M200.9 172h0M192.6 164.3h0M180.1 141.3h0M206.6 188.3h0M204.9 159.9h0M197.6 187.4h0M194.2 165.7h0M214 169.6h0M208.6 159.7h0M206.6 164.6h0M191.3 147.7h0M207.2 141.9h0M192.2 168.6h0M175 108h0M194.9 175h0M220.1 163.7h0M196.7 168.2h0M199.8 201.4h0M216.4 159.4h0M201 169.9h0M198.9 166.3h0M212.5 195h0M209.5 200.4h0M212.4 191.4h0M189.8 163.5h0M204.2 64.8h0M203.7 162.8h0M192.5 183.3h0M205.5 154.1h0M202.1 203.8h0M188.7 131.2h0M202.8 205.8h0M216.7 151.2h0M192.2 72.1h0M205.6 202h0M198.2 208.6h0M187.4 148.6h0M191.7 182.9h0M204.7 151.6h0M206.2 165.9h0M185.4 133.4h0M206.7 178.8h0M214.7 205.4h0M174.7 127.8h0M180.4 125.6h0M178.8 136.3h0M173.8 129.6h0M202.2 151.8h0M184.3 147.2h0M194.7 185.9h0M197.4 185h0M173.7 127.7h0M198.1 202.3h0M195.7 160.9h0M181.1 129.5h0M190.9 138.6h0M172.6 124.6h0M181.5 139.6h0M224.8 183.8h0M177 116.5h0M199.7 133.1h0M205 183.4h0M208.2 201.1h0M205.2 171.9h0M197.1 134.4h0M176.5 134.5h0M172.6 123.4h0M191.6 173.4h0M186.7 71.3h0M179 129.1h0M201.5 202.7h0M222.1 180.5h0M212.3 150.6h0M223.9 192.2h0M222.6 168.2h0M212.9 203.9h0M232.8 153.4h0M202.3 164.8h0M188.1 107.2h0M207.2 173.9h0M190.7 142.5h0M195.8 199.4h0M195.9 191.9h0M200.4 177.9h0M212 202.9h0M195.4 171.7h0M211 202.6h0M177.1 118.2h0M190.2 150.2h0M179.5 131.2h0M187.9 167h0M193.4 178.5h0M196.7 163.9h0M183.6 135.3h0M229.8 93.1h0M190.9 149.9h0M202.6 163.2h0M191.8 164.7h0M200 176.5h0M202.8 195.4h0M180.2 148.3h0M204.6 164.2h0M175.2 122.8h0M205.8 179.5h0M172.4 114.6h0M186.6 162h0M180 117.4h0M187.2 123.4h0M178.6 142.8h0M201.1 169.1h0M197.6 197h0M178.9 134.6h0M192.4 186.8h0M183.8 151.1h0M198.2 143.8h0M180.9 119.2h0M180.9 139.8h0M182.5 147.7h0M204.1 195h0M205.3 165.1h0M214.8 187h0M231.2 169.8h0M212.6 171.3h0M197.5 165.4h0M195.6 152.3h0M217 195.8h0M205.2 190.1h0M184.8 155.1h0M209.4 199.4h0M183.7 120.5h0M180.5 127.1h0M187.6 149.2h0M178 136.8h0M198.1 210.3h0M193.9 143h0M200.8 181.5h0M182.8 153h0M198.6 166.6h0M181.3 119.9h0M222.2 166.8h0M175.7 131h0M204.9 207.2h0M186.6 146.6h0M202 201h0M202 196h0M188.2 158.5h0M199 167.6h0M182.8 138h0M227.2 167.5h0M199 139.6h0M188.3 131.5h0M184.1 75.1h0" stroke="#d42e3c" stroke-width="3.7" stroke-linecap="round" stroke-opacity="0.8" fill="none"/>
<circle cx="124.6" cy="64" r="4.3" fill="#2f5fd0" stroke="#111" stroke-width="0.9"/>
<circle cx="134.7" cy="67.2" r="4.3" fill="#2f5fd0" stroke="#111" stroke-width="0.9"/>
<circle cx="144.5" cy="120.3" r="3.7" fill="none" stroke="#111" stroke-width="0.9"/>
<circle cx="138.4" cy="140.3" r="3.7" fill="none" stroke="#111" stroke-width="0.9"/>
<circle cx="147.8" cy="151.2" r="3.7" fill="none" stroke="#111" stroke-width="0.9"/>
<circle cx="152.7" cy="163.5" r="3.7" fill="none" stroke="#111" stroke-width="0.9"/>
<circle cx="152.1" cy="179" r="3.7" fill="none" stroke="#111" stroke-width="0.9"/>
<circle cx="189" cy="138.1" r="4.0" fill="#d42a3a" stroke="#111" stroke-width="0.9"/>
<circle cx="187.5" cy="145.1" r="4.0" fill="#d42a3a" stroke="#111" stroke-width="0.9"/>
<circle cx="190.7" cy="167.5" r="4.0" fill="#d42a3a" stroke="#111" stroke-width="0.9"/>
<circle cx="196.2" cy="168.6" r="4.0" fill="#d42a3a" stroke="#111" stroke-width="0.9"/>
<circle cx="215" cy="124.3" r="4.0" fill="#d42a3a" stroke="#111" stroke-width="0.9"/>
<text x="119" y="70.5" font-size="8.6" text-anchor="end" font-weight="bold" fill="#111" textLength="28" lengthAdjust="spacingAndGlyphs" stroke="#111" stroke-width="0.25">IGFBP2</text>
<text x="140.7" y="73" font-size="8.6" font-weight="bold" fill="#111" textLength="17" lengthAdjust="spacingAndGlyphs" stroke="#111" stroke-width="0.25">PLK2</text>
<text x="136.9" y="123.8" font-size="8.6" text-anchor="end" font-weight="bold" fill="#111" textLength="31.5" lengthAdjust="spacingAndGlyphs" stroke="#111" stroke-width="0.25">BMPR1A</text>
<text x="133" y="144.4" font-size="8.6" text-anchor="end" font-weight="bold" fill="#111" textLength="23.2" lengthAdjust="spacingAndGlyphs" stroke="#111" stroke-width="0.25">PRKG1</text>
<text x="140.2" y="155.9" font-size="8.6" text-anchor="end" font-weight="bold" fill="#111" textLength="19.6" lengthAdjust="spacingAndGlyphs" stroke="#111" stroke-width="0.25">MEST</text>
<text x="146.7" y="167.8" font-size="8.6" text-anchor="end" font-weight="bold" fill="#111" textLength="19.1" lengthAdjust="spacingAndGlyphs" stroke="#111" stroke-width="0.25">CDK6</text>
<text x="145.2" y="182.4" font-size="8.6" text-anchor="end" font-weight="bold" fill="#111" textLength="21.8" lengthAdjust="spacingAndGlyphs" stroke="#111" stroke-width="0.25">MESD</text>
<text x="194.4" y="139" font-size="8.6" font-weight="bold" fill="#111" textLength="14.1" lengthAdjust="spacingAndGlyphs" stroke="#111" stroke-width="0.25">TTN</text>
<text x="193.8" y="150.9" font-size="8.6" font-weight="bold" fill="#111" textLength="22.3" lengthAdjust="spacingAndGlyphs" stroke="#111" stroke-width="0.25">TNNI1</text>
<text x="192.9" y="163.3" font-size="8.6" font-weight="bold" fill="#111" textLength="19.5" lengthAdjust="spacingAndGlyphs" stroke="#111" stroke-width="0.25">MYL1</text>
<text x="201.6" y="177.6" font-size="8.6" font-weight="bold" fill="#111" textLength="24.3" lengthAdjust="spacingAndGlyphs" stroke="#111" stroke-width="0.25">TNNT2</text>
<text x="220.5" y="127.6" font-size="8.6" font-weight="bold" fill="#111" textLength="22.4" lengthAdjust="spacingAndGlyphs" stroke="#111" stroke-width="0.25">MYH8</text>
<text x="258" y="36.9" font-size="9.2" font-weight="bold" fill="#222" textLength="25.7" lengthAdjust="spacingAndGlyphs">Status</text>
<circle cx="262" cy="47.1" r="4" fill="#5b87de" stroke="#222" stroke-width="0.8"/>
<circle cx="262" cy="58.6" r="4" fill="#d3d3d3" stroke="#222" stroke-width="0.8"/>
<circle cx="262" cy="70.6" r="4" fill="#d9505e" stroke="#222" stroke-width="0.8"/>
<text x="269.4" y="50" font-size="8.4" fill="#444">downReg</text>
<text x="269.4" y="61.5" font-size="8.4" fill="#444">nonDE</text>
<text x="269.4" y="73.5" font-size="8.4" fill="#444">upReg</text>
<text x="344" y="22.8" font-size="12.2" font-weight="bold">B</text>
<line x1="352" y1="102.6" x2="352" y2="192.2" stroke="#333" stroke-width="1.1"/>
<line x1="351.5" y1="191.6" x2="485.5" y2="191.6" stroke="#333" stroke-width="1.1"/>
<line x1="348" y1="103.3" x2="352" y2="103.3" stroke="#333" stroke-width="1"/>
<text x="347" y="105.4" font-size="6.2" text-anchor="end" font-weight="bold" fill="#222">100</text>
<line x1="348" y1="132.9" x2="352" y2="132.9" stroke="#333" stroke-width="1"/>
<text x="347" y="135" font-size="6.2" text-anchor="end" font-weight="bold" fill="#222">10</text>
<line x1="348" y1="162.5" x2="352" y2="162.5" stroke="#333" stroke-width="1"/>
<text x="347" y="164.6" font-size="6.2" text-anchor="end" font-weight="bold" fill="#222">1</text>
<line x1="348" y1="192.1" x2="352" y2="192.1" stroke="#333" stroke-width="1"/>
<text x="347" y="194.2" font-size="6.2" text-anchor="end" font-weight="bold" fill="#222">0.1</text>
<line x1="362" y1="191.6" x2="362" y2="195.5" stroke="#333" stroke-width="1"/>
<text x="362.3" y="202.2" font-size="6.4" text-anchor="middle" font-weight="bold" fill="#222">TNNI1</text>
<line x1="384.7" y1="191.6" x2="384.7" y2="195.5" stroke="#333" stroke-width="1"/>
<text x="385" y="202.2" font-size="6.4" text-anchor="middle" font-weight="bold" fill="#222">TTN</text>
<line x1="407.4" y1="191.6" x2="407.4" y2="195.5" stroke="#333" stroke-width="1"/>
<text x="407.7" y="202.2" font-size="6.4" text-anchor="middle" font-weight="bold" fill="#222">MYL1</text>
<line x1="430.1" y1="191.6" x2="430.1" y2="195.5" stroke="#333" stroke-width="1"/>
<text x="430.4" y="202.2" font-size="6.4" text-anchor="middle" font-weight="bold" fill="#222">MYL4</text>
<line x1="452.8" y1="191.6" x2="452.8" y2="195.5" stroke="#333" stroke-width="1"/>
<text x="453.1" y="202.2" font-size="6.4" text-anchor="middle" font-weight="bold" fill="#222">TNNT3</text>
<line x1="475.5" y1="191.6" x2="475.5" y2="195.5" stroke="#333" stroke-width="1"/>
<text x="475.8" y="202.2" font-size="6.4" text-anchor="middle" font-weight="bold" fill="#222">MYH8</text>
<text x="329.2" y="149.4" font-size="7.6" text-anchor="middle" fill="#111" textLength="98.7" lengthAdjust="spacingAndGlyphs" transform="rotate(-90 329.2 146.8)">FC mRNA relative to GAPDH</text>
<text x="418.5" y="91.7" font-size="7.8" text-anchor="middle" font-weight="bold" fill="#111">RH4</text>
<polygon points="357.4,154.2 357.3,154.9 357.1,155.6 356.9,156.3 356.7,157 356.5,157.7 356.4,158.4 356.2,159.1 356,159.7 355.8,160.4 355.6,161.1 355.4,161.8 355.2,162.5 360.4,162.5 360.2,161.8 360,161.1 359.8,160.4 359.6,159.7 359.4,159.1 359.2,158.4 359.1,157.7 358.9,157 358.7,156.3 358.5,155.6 358.3,154.9 358.2,154.2" fill="#5a5aff" fill-opacity="0.75" stroke="#1f1fff" stroke-width="0.7"/>
<line x1="357.8" y1="154.2" x2="357.8" y2="162.5" stroke="#1f1fff" stroke-width="0.5" stroke-dasharray="1 1"/>
<circle cx="356.8" cy="162.5" r="1.75" fill="#1f1fff"/>
<circle cx="358.8" cy="162.5" r="1.75" fill="#1f1fff"/>
<circle cx="357.8" cy="154.2" r="1.75" fill="#1f1fff"/>
<polygon points="363.6,125.3 363.8,127.5 364,129.7 364.3,131.8 364.7,134 365.1,136.1 365.5,138.3 365.6,140.5 365.7,142.6 365.8,144.8 365.8,146.9 365.8,149.1 365.8,151.2 366.6,151.2 366.6,149.1 366.6,146.9 366.6,144.8 366.7,142.6 366.8,140.5 366.9,138.3 367.3,136.1 367.7,134 368.1,131.8 368.4,129.7 368.6,127.5 368.8,125.3" fill="#f45a5a" fill-opacity="0.8" stroke="#ff2a2a" stroke-width="0.7"/>
<line x1="366.2" y1="125.3" x2="366.2" y2="151.2" stroke="#ff2a2a" stroke-width="0.5" stroke-dasharray="1 1"/>
<circle cx="365.4" cy="125.3" r="1.75" fill="#ff2a2a"/>
<circle cx="367.2" cy="126.9" r="1.75" fill="#ff2a2a"/>
<circle cx="366.8" cy="128.6" r="1.75" fill="#ff2a2a"/>
<circle cx="366.2" cy="151.2" r="1.75" fill="#ff2a2a"/>
<polygon points="380.1,156.5 380,157 379.8,157.5 379.6,158 379.4,158.5 379.2,159 379.1,159.5 378.9,160 378.7,160.5 378.5,161 378.3,161.5 378.1,162 377.9,162.5 383.1,162.5 382.9,162 382.7,161.5 382.5,161 382.3,160.5 382.1,160 381.9,159.5 381.8,159 381.6,158.5 381.4,158 381.2,157.5 381,157 380.9,156.5" fill="#5a5aff" fill-opacity="0.75" stroke="#1f1fff" stroke-width="0.7"/>
<line x1="380.5" y1="156.5" x2="380.5" y2="162.5" stroke="#1f1fff" stroke-width="0.5" stroke-dasharray="1 1"/>
<circle cx="379.5" cy="162.5" r="1.75" fill="#1f1fff"/>
<circle cx="381.5" cy="162.5" r="1.75" fill="#1f1fff"/>
<circle cx="380.5" cy="156.5" r="1.75" fill="#1f1fff"/>
<polygon points="386.5,148.4 386.3,149.5 386.2,150.5 386,151.6 386,152.7 386,153.8 386,154.8 386,155.9 386,157 386,158.1 386.2,159.1 386.3,160.2 386.5,161.3 391.3,161.3 391.5,160.2 391.6,159.1 391.8,158.1 391.8,157 391.8,155.9 391.8,154.8 391.8,153.8 391.8,152.7 391.8,151.6 391.6,150.5 391.5,149.5 391.3,148.4" fill="#f45a5a" fill-opacity="0.8" stroke="#ff2a2a" stroke-width="0.7"/>
<line x1="388.9" y1="148.4" x2="388.9" y2="161.3" stroke="#ff2a2a" stroke-width="0.5" stroke-dasharray="1 1"/>
<circle cx="388.9" cy="148.4" r="1.75" fill="#ff2a2a"/>
<circle cx="389.7" cy="150.2" r="1.75" fill="#ff2a2a"/>
<circle cx="388.3" cy="153.6" r="1.75" fill="#ff2a2a"/>
<circle cx="389.5" cy="160.2" r="1.75" fill="#ff2a2a"/>
<circle cx="388.4" cy="161.3" r="1.75" fill="#ff2a2a"/>
<polygon points="402.8,154.2 402.7,154.9 402.5,155.6 402.3,156.3 402.1,157 401.9,157.7 401.8,158.4 401.6,159.1 401.4,159.7 401.2,160.4 401,161.1 400.8,161.8 400.6,162.5 405.8,162.5 405.6,161.8 405.4,161.1 405.2,160.4 405,159.7 404.8,159.1 404.6,158.4 404.5,157.7 404.3,157 404.1,156.3 403.9,155.6 403.7,154.9 403.6,154.2" fill="#5a5aff" fill-opacity="0.75" stroke="#1f1fff" stroke-width="0.7"/>
<line x1="403.2" y1="154.2" x2="403.2" y2="162.5" stroke="#1f1fff" stroke-width="0.5" stroke-dasharray="1 1"/>
<circle cx="402.2" cy="162.5" r="1.75" fill="#1f1fff"/>
<circle cx="404.2" cy="162.5" r="1.75" fill="#1f1fff"/>
<circle cx="403.2" cy="154.2" r="1.75" fill="#1f1fff"/>
<polygon points="411.2,131.7 411,134.2 410.8,136.8 410.6,139.4 410.3,141.9 410,144.5 409.7,147.1 409.4,149.7 409.2,152.2 409,154.8 408.9,157.4 408.8,159.9 408.7,162.5 414.5,162.5 414.4,159.9 414.3,157.4 414.2,154.8 414,152.2 413.8,149.7 413.5,147.1 413.2,144.5 412.9,141.9 412.6,139.4 412.4,136.8 412.2,134.2 412,131.7" fill="#f45a5a" fill-opacity="0.8" stroke="#ff2a2a" stroke-width="0.7"/>
<line x1="411.6" y1="131.7" x2="411.6" y2="162.5" stroke="#ff2a2a" stroke-width="0.5" stroke-dasharray="1 1"/>
<circle cx="411.6" cy="131.7" r="1.75" fill="#ff2a2a"/>
<circle cx="411.6" cy="140.6" r="1.75" fill="#ff2a2a"/>
<circle cx="411.6" cy="153.6" r="1.75" fill="#ff2a2a"/>
<circle cx="410.8" cy="161.9" r="1.75" fill="#ff2a2a"/>
<circle cx="412.6" cy="162.5" r="1.75" fill="#ff2a2a"/>
<polygon points="424.9,160.2 424.8,160.4 424.7,160.5 424.6,160.7 424.5,160.9 424.3,161.1 424.2,161.3 424.1,161.5 424,161.7 423.9,161.9 423.7,162.1 423.6,162.3 423.5,162.5 428.3,162.5 428.2,162.3 428.1,162.1 427.9,161.9 427.8,161.7 427.7,161.5 427.6,161.3 427.5,161.1 427.3,160.9 427.2,160.7 427.1,160.5 427,160.4 426.9,160.2" fill="#5a5aff" fill-opacity="0.75" stroke="#1f1fff" stroke-width="0.7"/>
<line x1="425.9" y1="160.2" x2="425.9" y2="162.5" stroke="#1f1fff" stroke-width="0.5" stroke-dasharray="1 1"/>
<circle cx="424.9" cy="162.5" r="1.75" fill="#1f1fff"/>
<circle cx="426.9" cy="162.5" r="1.75" fill="#1f1fff"/>
<circle cx="425.9" cy="160.2" r="1.75" fill="#1f1fff"/>
<polygon points="432.1,141.1 432.2,141.7 432.3,142.4 432.4,143.1 432.5,143.8 432.5,144.5 432.6,145.2 432.8,145.8 433.1,146.5 433.3,147.2 433.5,147.9 433.7,148.6 433.9,149.3 434.7,149.3 434.9,148.6 435.1,147.9 435.3,147.2 435.5,146.5 435.8,145.8 436,145.2 436.1,144.5 436.1,143.8 436.2,143.1 436.3,142.4 436.4,141.7 436.5,141.1" fill="#f45a5a" fill-opacity="0.8" stroke="#ff2a2a" stroke-width="0.7"/>
<line x1="434.3" y1="141.1" x2="434.3" y2="149.3" stroke="#ff2a2a" stroke-width="0.5" stroke-dasharray="1 1"/>
<circle cx="433.5" cy="141.1" r="1.75" fill="#ff2a2a"/>
<circle cx="435.3" cy="142.3" r="1.75" fill="#ff2a2a"/>
<circle cx="434.3" cy="149.3" r="1.75" fill="#ff2a2a"/>
<polygon points="447.2,162.5 447.2,162.7 447.2,163 447.2,163.2 447.2,163.5 447.3,163.7 447.3,163.9 447.3,164.2 447.3,164.4 447.3,164.7 447.4,164.9 447.4,165.1 447.4,165.4 449.8,165.4 449.8,165.1 449.8,164.9 449.9,164.7 449.9,164.4 449.9,164.2 449.9,163.9 449.9,163.7 450,163.5 450,163.2 450,163 450,162.7 450,162.5" fill="#5a5aff" fill-opacity="0.75" stroke="#1f1fff" stroke-width="0.7"/>
<line x1="448.6" y1="162.5" x2="448.6" y2="165.4" stroke="#1f1fff" stroke-width="0.5" stroke-dasharray="1 1"/>
<circle cx="447.8" cy="165.4" r="1.75" fill="#1f1fff"/>
<circle cx="449.1" cy="162.5" r="1.75" fill="#1f1fff"/>
<circle cx="450.1" cy="162.5" r="1.75" fill="#1f1fff"/>
<polygon points="456.6,141.8 456.5,142.6 456.4,143.5 456.3,144.3 456.2,145.1 456,146 455.9,146.8 455.7,147.6 455.4,148.5 455.1,149.3 454.9,150.1 454.6,151 454.4,151.8 459.6,151.8 459.4,151 459.1,150.1 458.9,149.3 458.6,148.5 458.3,147.6 458.1,146.8 458,146 457.8,145.1 457.7,144.3 457.6,143.5 457.5,142.6 457.4,141.8" fill="#f45a5a" fill-opacity="0.8" stroke="#ff2a2a" stroke-width="0.7"/>
<line x1="457" y1="141.8" x2="457" y2="151.8" stroke="#ff2a2a" stroke-width="0.5" stroke-dasharray="1 1"/>
<circle cx="457" cy="141.8" r="1.75" fill="#ff2a2a"/>
<circle cx="457" cy="149.3" r="1.75" fill="#ff2a2a"/>
<circle cx="456.2" cy="151.2" r="1.75" fill="#ff2a2a"/>
<circle cx="457.9" cy="151.8" r="1.75" fill="#ff2a2a"/>
<circle cx="470.1" cy="162.5" r="1.75" fill="#1f1fff"/>
<circle cx="471.3" cy="162.5" r="1.75" fill="#1f1fff"/>
<circle cx="472.5" cy="162.5" r="1.75" fill="#1f1fff"/>
<polygon points="479.3,111 479,114 478.6,117 478.1,120 477.5,123 477,126.1 476.9,129.1 476.8,132.1 476.9,135.1 477,138.1 477.2,141.1 477.5,144.1 477.8,147.2 481.6,147.2 481.9,144.1 482.2,141.1 482.4,138.1 482.5,135.1 482.6,132.1 482.5,129.1 482.4,126.1 481.9,123 481.3,120 480.8,117 480.4,114 480.1,111" fill="#f45a5a" fill-opacity="0.8" stroke="#ff2a2a" stroke-width="0.7"/>
<line x1="479.7" y1="111" x2="479.7" y2="147.2" stroke="#ff2a2a" stroke-width="0.5" stroke-dasharray="1 1"/>
<circle cx="479.7" cy="111" r="1.75" fill="#ff2a2a"/>
<circle cx="478.9" cy="124" r="1.75" fill="#ff2a2a"/>
<circle cx="480.6" cy="126.1" r="1.75" fill="#ff2a2a"/>
<circle cx="479.7" cy="137.5" r="1.75" fill="#ff2a2a"/>
<circle cx="480.3" cy="144.7" r="1.75" fill="#ff2a2a"/>
<circle cx="479.2" cy="147.2" r="1.75" fill="#ff2a2a"/>
<line x1="529" y1="102.6" x2="529" y2="192.2" stroke="#333" stroke-width="1.1"/>
<line x1="528.5" y1="191.6" x2="664.7" y2="191.6" stroke="#333" stroke-width="1.1"/>
<line x1="525" y1="103.3" x2="529" y2="103.3" stroke="#333" stroke-width="1"/>
<text x="524" y="105.4" font-size="6.2" text-anchor="end" font-weight="bold" fill="#222">100</text>
<line x1="525" y1="132.9" x2="529" y2="132.9" stroke="#333" stroke-width="1"/>
<text x="524" y="135" font-size="6.2" text-anchor="end" font-weight="bold" fill="#222">10</text>
<line x1="525" y1="162.5" x2="529" y2="162.5" stroke="#333" stroke-width="1"/>
<text x="524" y="164.6" font-size="6.2" text-anchor="end" font-weight="bold" fill="#222">1</text>
<line x1="525" y1="192.1" x2="529" y2="192.1" stroke="#333" stroke-width="1"/>
<text x="524" y="194.2" font-size="6.2" text-anchor="end" font-weight="bold" fill="#222">0.1</text>
<line x1="539.3" y1="191.6" x2="539.3" y2="195.5" stroke="#333" stroke-width="1"/>
<text x="539.6" y="202.2" font-size="6.4" text-anchor="middle" font-weight="bold" fill="#222">TNNI1</text>
<line x1="562" y1="191.6" x2="562" y2="195.5" stroke="#333" stroke-width="1"/>
<text x="562.3" y="202.2" font-size="6.4" text-anchor="middle" font-weight="bold" fill="#222">TTN</text>
<line x1="584.8" y1="191.6" x2="584.8" y2="195.5" stroke="#333" stroke-width="1"/>
<text x="585.1" y="202.2" font-size="6.4" text-anchor="middle" font-weight="bold" fill="#222">MYL1</text>
<line x1="607.5" y1="191.6" x2="607.5" y2="195.5" stroke="#333" stroke-width="1"/>
<text x="607.8" y="202.2" font-size="6.4" text-anchor="middle" font-weight="bold" fill="#222">MYL4</text>
<line x1="630.3" y1="191.6" x2="630.3" y2="195.5" stroke="#333" stroke-width="1"/>
<text x="630.6" y="202.2" font-size="6.4" text-anchor="middle" font-weight="bold" fill="#222">TNNT3</text>
<line x1="653" y1="191.6" x2="653" y2="195.5" stroke="#333" stroke-width="1"/>
<text x="653.3" y="202.2" font-size="6.4" text-anchor="middle" font-weight="bold" fill="#222">MYH8</text>
<text x="506.2" y="149.4" font-size="7.6" text-anchor="middle" fill="#111" textLength="98.7" lengthAdjust="spacingAndGlyphs" transform="rotate(-90 506.2 146.8)">FC mRNA relative to GAPDH</text>
<text x="596" y="91.7" font-size="7.8" text-anchor="middle" font-weight="bold" fill="#111">RD</text>
<circle cx="533.8" cy="162.5" r="1.75" fill="#1f1fff"/>
<circle cx="535.1" cy="162.5" r="1.75" fill="#1f1fff"/>
<circle cx="536.4" cy="162.5" r="1.75" fill="#1f1fff"/>
<polygon points="543.1,146 543,146.8 542.9,147.6 542.7,148.4 542.6,149.2 542.4,150.1 542.3,150.9 542.1,151.7 541.8,152.5 541.6,153.3 541.3,154.1 541.1,154.9 540.9,155.7 546.1,155.7 545.9,154.9 545.7,154.1 545.4,153.3 545.2,152.5 544.9,151.7 544.7,150.9 544.6,150.1 544.4,149.2 544.3,148.4 544.1,147.6 544,146.8 543.9,146" fill="#f45a5a" fill-opacity="0.8" stroke="#ff2a2a" stroke-width="0.7"/>
<line x1="543.5" y1="146" x2="543.5" y2="155.7" stroke="#ff2a2a" stroke-width="0.5" stroke-dasharray="1 1"/>
<circle cx="543.5" cy="146" r="1.75" fill="#ff2a2a"/>
<circle cx="543.5" cy="151.8" r="1.75" fill="#ff2a2a"/>
<circle cx="542.7" cy="154.9" r="1.75" fill="#ff2a2a"/>
<circle cx="544.4" cy="155.7" r="1.75" fill="#ff2a2a"/>
<circle cx="556.5" cy="162.5" r="1.75" fill="#1f1fff"/>
<circle cx="557.8" cy="162.5" r="1.75" fill="#1f1fff"/>
<circle cx="559.1" cy="162.5" r="1.75" fill="#1f1fff"/>
<polygon points="563.4,140.6 563.5,143.1 563.5,145.5 563.6,148 563.9,150.5 564.1,152.9 564.3,155.4 564.6,157.9 564.8,160.3 565,162.8 565.3,165.3 565.5,167.7 565.8,170.2 566.7,170.2 567,167.7 567.2,165.3 567.5,162.8 567.7,160.3 567.9,157.9 568.2,155.4 568.4,152.9 568.6,150.5 568.9,148 569,145.5 569,143.1 569.1,140.6" fill="#f45a5a" fill-opacity="0.8" stroke="#ff2a2a" stroke-width="0.7"/>
<line x1="566.2" y1="140.6" x2="566.2" y2="170.2" stroke="#ff2a2a" stroke-width="0.5" stroke-dasharray="1 1"/>
<circle cx="566.2" cy="140.6" r="1.75" fill="#ff2a2a"/>
<circle cx="566.2" cy="148.4" r="1.75" fill="#ff2a2a"/>
<circle cx="566.2" cy="170.2" r="1.75" fill="#ff2a2a"/>
<circle cx="579.3" cy="162.5" r="1.75" fill="#1f1fff"/>
<circle cx="580.6" cy="162.5" r="1.75" fill="#1f1fff"/>
<circle cx="581.9" cy="162.5" r="1.75" fill="#1f1fff"/>
<polygon points="588.6,153.6 588.5,154.1 588.4,154.7 588.2,155.2 588.1,155.8 587.9,156.3 587.8,156.9 587.6,157.4 587.3,158 587.1,158.5 586.8,159.1 586.6,159.6 586.4,160.2 591.6,160.2 591.4,159.6 591.2,159.1 590.9,158.5 590.7,158 590.4,157.4 590.2,156.9 590.1,156.3 589.9,155.8 589.8,155.2 589.6,154.7 589.5,154.1 589.4,153.6" fill="#f45a5a" fill-opacity="0.8" stroke="#ff2a2a" stroke-width="0.7"/>
<line x1="589" y1="153.6" x2="589" y2="160.2" stroke="#ff2a2a" stroke-width="0.5" stroke-dasharray="1 1"/>
<circle cx="589" cy="153.6" r="1.75" fill="#ff2a2a"/>
<circle cx="588.1" cy="159.6" r="1.75" fill="#ff2a2a"/>
<circle cx="590" cy="160.2" r="1.75" fill="#ff2a2a"/>
<circle cx="602" cy="162.5" r="1.75" fill="#1f1fff"/>
<circle cx="603.3" cy="162.5" r="1.75" fill="#1f1fff"/>
<circle cx="604.6" cy="162.5" r="1.75" fill="#1f1fff"/>
<polygon points="609.1,143.5 609.2,144.7 609.4,146 609.5,147.3 609.7,148.5 609.8,149.8 610,151 610.2,152.3 610.4,153.6 610.6,154.8 610.8,156.1 611,157.4 611.3,158.6 612.2,158.6 612.5,157.4 612.7,156.1 612.9,154.8 613.1,153.6 613.3,152.3 613.5,151 613.7,149.8 613.8,148.5 614,147.3 614.1,146 614.2,144.7 614.4,143.5" fill="#f45a5a" fill-opacity="0.8" stroke="#ff2a2a" stroke-width="0.7"/>
<line x1="611.8" y1="143.5" x2="611.8" y2="158.6" stroke="#ff2a2a" stroke-width="0.5" stroke-dasharray="1 1"/>
<circle cx="611.8" cy="143.5" r="1.75" fill="#ff2a2a"/>
<circle cx="611.8" cy="148.4" r="1.75" fill="#ff2a2a"/>
<circle cx="611.8" cy="158.6" r="1.75" fill="#ff2a2a"/>
<circle cx="624.8" cy="162.5" r="1.75" fill="#1f1fff"/>
<circle cx="626.1" cy="162.5" r="1.75" fill="#1f1fff"/>
<circle cx="627.4" cy="162.5" r="1.75" fill="#1f1fff"/>
<polygon points="634.1,132.9 633.9,134.2 633.7,135.5 633.5,136.8 633.3,138.1 632.9,139.3 632.5,140.6 632.1,141.9 631.7,143.2 631.9,144.5 632,145.8 632.2,147.1 632.3,148.4 636.7,148.4 636.8,147.1 637,145.8 637.1,144.5 637.3,143.2 636.9,141.9 636.5,140.6 636.1,139.3 635.7,138.1 635.5,136.8 635.3,135.5 635.1,134.2 634.9,132.9" fill="#f45a5a" fill-opacity="0.8" stroke="#ff2a2a" stroke-width="0.7"/>
<line x1="634.5" y1="132.9" x2="634.5" y2="148.4" stroke="#ff2a2a" stroke-width="0.5" stroke-dasharray="1 1"/>
<circle cx="634.5" cy="132.9" r="1.75" fill="#ff2a2a"/>
<circle cx="634" cy="144.7" r="1.75" fill="#ff2a2a"/>
<circle cx="635.1" cy="146.8" r="1.75" fill="#ff2a2a"/>
<circle cx="634.5" cy="148.4" r="1.75" fill="#ff2a2a"/>
<circle cx="648.8" cy="162.5" r="1.75" fill="#1f1fff"/>
<polygon points="654.9,144.7 655.1,146.1 655.3,147.4 655.6,148.8 655.8,150.2 655.7,151.6 655.6,153 655.5,154.4 655.5,155.7 655.3,157.1 655.1,158.5 655,159.9 654.9,161.3 659.6,161.3 659.5,159.9 659.4,158.5 659.2,157.1 659,155.7 659,154.4 658.9,153 658.8,151.6 658.7,150.2 658.9,148.8 659.2,147.4 659.4,146.1 659.6,144.7" fill="#f45a5a" fill-opacity="0.8" stroke="#ff2a2a" stroke-width="0.7"/>
<line x1="657.2" y1="144.7" x2="657.2" y2="161.3" stroke="#ff2a2a" stroke-width="0.5" stroke-dasharray="1 1"/>
<circle cx="657.2" cy="144.7" r="1.75" fill="#ff2a2a"/>
<circle cx="657.2" cy="150.7" r="1.75" fill="#ff2a2a"/>
<circle cx="657.2" cy="161.3" r="1.75" fill="#ff2a2a"/>
<rect x="636.4" y="87.5" width="9.6" height="4.6" fill="#8080ff" stroke="#2020ff" stroke-width="0.6"/>
<rect x="636.4" y="99.8" width="9.6" height="4.6" fill="#ff8080" stroke="#ff3030" stroke-width="0.6"/>
<text x="651" y="92.1" font-size="6.8" fill="#333">SCR</text>
<text x="651" y="104.4" font-size="6.8" fill="#333">KO</text>
<text x="1" y="292.7" font-size="12.2" font-weight="bold">C</text>
<text x="303.6" y="313.5" font-size="9.25" text-anchor="end" font-weight="bold" fill="#4d4d4d">GOBP_SKELETAL_SYSTEM_DEVELOPMENT</text>
<line x1="305.2" y1="308.9" x2="307.5" y2="308.9" stroke="#555" stroke-width="0.6"/>
<text x="303.6" y="325.5" font-size="9.25" text-anchor="end" font-weight="bold" fill="#4d4d4d">GOBP_MUSCLE_TISSUE_DEVELOPMENT</text>
<line x1="305.2" y1="320.8" x2="307.5" y2="320.8" stroke="#555" stroke-width="0.6"/>
<text x="303.6" y="337.4" font-size="9.25" text-anchor="end" font-weight="bold" fill="#4d4d4d">HSMM_Differentiation_UP</text>
<line x1="305.2" y1="332.8" x2="307.5" y2="332.8" stroke="#555" stroke-width="0.6"/>
<text x="303.6" y="349.4" font-size="9.25" text-anchor="end" font-weight="bold" fill="#4d4d4d">GOBP_MUSCLE_CELL_DIFFERENTIATION</text>
<line x1="305.2" y1="344.7" x2="307.5" y2="344.7" stroke="#555" stroke-width="0.6"/>
<text x="303.6" y="361.4" font-size="9.25" text-anchor="end" font-weight="bold" fill="#4d4d4d">GOBP_SKELETAL_MUSCLE_ORGAN_DEVELOPMENT</text>
<line x1="305.2" y1="356.7" x2="307.5" y2="356.7" stroke="#555" stroke-width="0.6"/>
<text x="303.6" y="373.4" font-size="9.25" text-anchor="end" font-weight="bold" fill="#4d4d4d">GOBP_REGULATION_OF_CELL_CYCLE_PHASE_TRANSITION</text>
<line x1="305.2" y1="368.6" x2="307.5" y2="368.6" stroke="#555" stroke-width="0.6"/>
<text x="303.6" y="385.4" font-size="9.25" text-anchor="end" font-weight="bold" fill="#4d4d4d">GOBP_CANONICAL_WNT_SIGNALING_PATHWAY</text>
<line x1="305.2" y1="380.5" x2="307.5" y2="380.5" stroke="#555" stroke-width="0.6"/>
<text x="303.6" y="397.3" font-size="9.25" text-anchor="end" font-weight="bold" fill="#4d4d4d">GOBP_MESENCHYME_DEVELOPMENT</text>
<line x1="305.2" y1="392.5" x2="307.5" y2="392.5" stroke="#555" stroke-width="0.6"/>
<text x="303.6" y="409.3" font-size="9.25" text-anchor="end" font-weight="bold" fill="#4d4d4d">GOBP_MESENCHYMAL_CELL_DIFFERENTIATION</text>
<line x1="305.2" y1="404.4" x2="307.5" y2="404.4" stroke="#555" stroke-width="0.6"/>
<text x="303.6" y="421.3" font-size="9.25" text-anchor="end" font-weight="bold" fill="#4d4d4d">GOBP_REGULATION_OF_STEM_CELL_DIFFERENTIATION</text>
<line x1="305.2" y1="416.4" x2="307.5" y2="416.4" stroke="#555" stroke-width="0.6"/>
<rect x="307.5" y="302" width="162.8" height="121.4" fill="#fff"/>
<rect x="472.6" y="302" width="161.7" height="121.4" fill="#fff"/>
<line x1="308" y1="308.9" x2="470" y2="308.9" stroke="#efefef" stroke-width="0.7"/>
<line x1="473" y1="308.9" x2="634" y2="308.9" stroke="#efefef" stroke-width="0.7"/>
<line x1="308" y1="320.8" x2="470" y2="320.8" stroke="#efefef" stroke-width="0.7"/>
<line x1="473" y1="320.8" x2="634" y2="320.8" stroke="#efefef" stroke-width="0.7"/>
<line x1="308" y1="332.8" x2="470" y2="332.8" stroke="#efefef" stroke-width="0.7"/>
<line x1="473" y1="332.8" x2="634" y2="332.8" stroke="#efefef" stroke-width="0.7"/>
<line x1="308" y1="344.7" x2="470" y2="344.7" stroke="#efefef" stroke-width="0.7"/>
<line x1="473" y1="344.7" x2="634" y2="344.7" stroke="#efefef" stroke-width="0.7"/>
<line x1="308" y1="356.7" x2="470" y2="356.7" stroke="#efefef" stroke-width="0.7"/>
<line x1="473" y1="356.7" x2="634" y2="356.7" stroke="#efefef" stroke-width="0.7"/>
<line x1="308" y1="368.6" x2="470" y2="368.6" stroke="#efefef" stroke-width="0.7"/>
<line x1="473" y1="368.6" x2="634" y2="368.6" stroke="#efefef" stroke-width="0.7"/>
<line x1="308" y1="380.5" x2="470" y2="380.5" stroke="#efefef" stroke-width="0.7"/>
<line x1="473" y1="380.5" x2="634" y2="380.5" stroke="#efefef" stroke-width="0.7"/>
<line x1="308" y1="392.5" x2="470" y2="392.5" stroke="#efefef" stroke-width="0.7"/>
<line x1="473" y1="392.5" x2="634" y2="392.5" stroke="#efefef" stroke-width="0.7"/>
<line x1="308" y1="404.4" x2="470" y2="404.4" stroke="#efefef" stroke-width="0.7"/>
<line x1="473" y1="404.4" x2="634" y2="404.4" stroke="#efefef" stroke-width="0.7"/>
<line x1="308" y1="416.4" x2="470" y2="416.4" stroke="#efefef" stroke-width="0.7"/>
<line x1="473" y1="416.4" x2="634" y2="416.4" stroke="#efefef" stroke-width="0.7"/>
<line x1="321.3" y1="302" x2="321.3" y2="423" stroke="#f5f5f5" stroke-width="0.7"/>
<line x1="337.7" y1="302" x2="337.7" y2="423" stroke="#ececec" stroke-width="0.7"/>
<line x1="354.2" y1="302" x2="354.2" y2="423" stroke="#f5f5f5" stroke-width="0.7"/>
<line x1="370.6" y1="302" x2="370.6" y2="423" stroke="#ececec" stroke-width="0.7"/>
<line x1="387" y1="302" x2="387" y2="423" stroke="#f5f5f5" stroke-width="0.7"/>
<line x1="403.5" y1="302" x2="403.5" y2="423" stroke="#ececec" stroke-width="0.7"/>
<line x1="420" y1="302" x2="420" y2="423" stroke="#f5f5f5" stroke-width="0.7"/>
<line x1="436.4" y1="302" x2="436.4" y2="423" stroke="#ececec" stroke-width="0.7"/>
<line x1="452.9" y1="302" x2="452.9" y2="423" stroke="#f5f5f5" stroke-width="0.7"/>
<line x1="469.3" y1="302" x2="469.3" y2="423" stroke="#f5f5f5" stroke-width="0.7"/>
<line x1="486.1" y1="303" x2="486.1" y2="423" stroke="#f5f5f5" stroke-width="0.7"/>
<line x1="502.3" y1="303" x2="502.3" y2="423" stroke="#ececec" stroke-width="0.7"/>
<line x1="519.6" y1="303" x2="519.6" y2="423" stroke="#f5f5f5" stroke-width="0.7"/>
<line x1="535.3" y1="303" x2="535.3" y2="423" stroke="#ececec" stroke-width="0.7"/>
<line x1="551.9" y1="303" x2="551.9" y2="423" stroke="#f5f5f5" stroke-width="0.7"/>
<line x1="568" y1="303" x2="568" y2="423" stroke="#ececec" stroke-width="0.7"/>
<line x1="584.1" y1="303" x2="584.1" y2="423" stroke="#f5f5f5" stroke-width="0.7"/>
<line x1="600.8" y1="303" x2="600.8" y2="423" stroke="#ececec" stroke-width="0.7"/>
<line x1="617.6" y1="303" x2="617.6" y2="423" stroke="#f5f5f5" stroke-width="0.7"/>
<line x1="633.8" y1="303" x2="633.8" y2="423" stroke="#ececec" stroke-width="0.7"/>
<rect x="307.5" y="294.2" width="162.8" height="7.4" fill="#d9d9d9" stroke="#6b6b6b" stroke-width="0.7"/>
<rect x="472.6" y="294.2" width="161.7" height="8.2" fill="#d9d9d9" stroke="#6b6b6b" stroke-width="0.7"/>
<text x="394.8" y="301.6" font-size="8.6" text-anchor="middle" font-weight="bold" fill="#1a1a1a" textLength="22.5" lengthAdjust="spacingAndGlyphs">Down</text>
<text x="554.4" y="301.9" font-size="8.6" text-anchor="middle" font-weight="bold" fill="#1a1a1a" textLength="10.6" lengthAdjust="spacingAndGlyphs">Up</text>
<line x1="307.5" y1="301.6" x2="307.5" y2="423.6" stroke="#555" stroke-width="0.9"/>
<line x1="307.5" y1="423.4" x2="470.3" y2="423.4" stroke="#555" stroke-width="0.9"/>
<line x1="472.6" y1="423.4" x2="634.3" y2="423.4" stroke="#555" stroke-width="0.9"/>
<line x1="634.3" y1="302.4" x2="634.3" y2="423.6" stroke="#777" stroke-width="0.9"/>
<rect x="470.2" y="294.2" width="2.4" height="129.4" fill="#c9c9c9"/>
<line x1="337.7" y1="423.4" x2="337.7" y2="425.4" stroke="#777" stroke-width="0.6"/>
<line x1="370.6" y1="423.4" x2="370.6" y2="425.4" stroke="#777" stroke-width="0.6"/>
<line x1="403.5" y1="423.4" x2="403.5" y2="425.4" stroke="#777" stroke-width="0.6"/>
<line x1="436.4" y1="423.4" x2="436.4" y2="425.4" stroke="#777" stroke-width="0.6"/>
<line x1="469.3" y1="423.4" x2="469.3" y2="425.4" stroke="#777" stroke-width="0.6"/>
<line x1="502.3" y1="423.4" x2="502.3" y2="425.4" stroke="#777" stroke-width="0.6"/>
<line x1="535.3" y1="423.4" x2="535.3" y2="425.4" stroke="#777" stroke-width="0.6"/>
<line x1="568" y1="423.4" x2="568" y2="425.4" stroke="#777" stroke-width="0.6"/>
<line x1="600.8" y1="423.4" x2="600.8" y2="425.4" stroke="#777" stroke-width="0.6"/>
<line x1="633.8" y1="423.4" x2="633.8" y2="425.4" stroke="#777" stroke-width="0.6"/>
<text x="330.5" y="433.8" font-size="9.2" text-anchor="middle" font-weight="bold" fill="#4d4d4d" textLength="22.7" lengthAdjust="spacingAndGlyphs">0.010</text>
<text x="363" y="433.8" font-size="9.2" text-anchor="middle" font-weight="bold" fill="#4d4d4d" textLength="22.7" lengthAdjust="spacingAndGlyphs">0.015</text>
<text x="395.8" y="433.8" font-size="9.2" text-anchor="middle" font-weight="bold" fill="#4d4d4d" textLength="22.7" lengthAdjust="spacingAndGlyphs">0.020</text>
<text x="428.6" y="433.8" font-size="9.2" text-anchor="middle" font-weight="bold" fill="#4d4d4d" textLength="22.7" lengthAdjust="spacingAndGlyphs">0.025</text>
<text x="454.4" y="433.8" font-size="9.2" text-anchor="middle" font-weight="bold" fill="#4d4d4d" textLength="22.7" lengthAdjust="spacingAndGlyphs">0.025</text>
<text x="490.9" y="433.6" font-size="9.2" text-anchor="middle" font-weight="bold" fill="#4d4d4d" textLength="23" lengthAdjust="spacingAndGlyphs">0.010</text>
<text x="523.2" y="433.6" font-size="9.2" text-anchor="middle" font-weight="bold" fill="#4d4d4d" textLength="23" lengthAdjust="spacingAndGlyphs">0.015</text>
<text x="556" y="433.6" font-size="9.2" text-anchor="middle" font-weight="bold" fill="#4d4d4d" textLength="23" lengthAdjust="spacingAndGlyphs">0.020</text>
<text x="588.4" y="433.6" font-size="9.2" text-anchor="middle" font-weight="bold" fill="#4d4d4d" textLength="23" lengthAdjust="spacingAndGlyphs">0.025</text>
<text x="621" y="433.6" font-size="9.2" text-anchor="middle" font-weight="bold" fill="#4d4d4d" textLength="23" lengthAdjust="spacingAndGlyphs">0.030</text>
<text x="452.5" y="451.1" font-size="9.2" text-anchor="middle" font-weight="bold" fill="#4d4d4d" textLength="45" lengthAdjust="spacingAndGlyphs">GeneRatio</text>
<circle cx="314.7" cy="416.4" r="2.0" fill="#dc2a8a"/>
<circle cx="378.8" cy="404.4" r="5.9" fill="#e02a6c"/>
<circle cx="390" cy="392.5" r="6.0" fill="#a322ee"/>
<circle cx="396.5" cy="380.5" r="6.3" fill="#e02a66"/>
<circle cx="449.5" cy="368.6" r="7.5" fill="#df2a68"/>
<circle cx="627.4" cy="308.9" r="6.95" fill="#e02468"/>
<circle cx="604" cy="320.8" r="6.4" fill="#e8204e"/>
<circle cx="596.4" cy="332.8" r="6.3" fill="#ff200a"/>
<circle cx="585.8" cy="344.7" r="6.1" fill="#a020ff"/>
<circle cx="515.4" cy="356.7" r="3.9" fill="#1a1aff"/>
<text x="642.3" y="313.1" font-size="9.1" fill="#222" textLength="24.4" lengthAdjust="spacingAndGlyphs">Count</text>
<circle cx="645.2" cy="321.3" r="2.3" fill="#000"/>
<text x="656.7" y="326" font-size="7.2" fill="#333">20</text>
<circle cx="645.2" cy="330.9" r="4.5" fill="#000"/>
<text x="656.7" y="335.7" font-size="7.2" fill="#333">40</text>
<circle cx="645.2" cy="345.4" r="6.1" fill="#000"/>
<text x="656.7" y="350.5" font-size="7.2" fill="#333">60</text>
<circle cx="645.2" cy="363" r="7.0" fill="#000"/>
<text x="656.7" y="367.8" font-size="7.2" fill="#333">80</text>
<text x="638.4" y="385.1" font-size="8.3" fill="#222" textLength="28.3" lengthAdjust="spacingAndGlyphs">p.adjust</text>
<defs><linearGradient id="pg" x1="0" y1="0" x2="0" y2="1"><stop offset="0" stop-color="#3020ff"/><stop offset="0.3" stop-color="#9020f8"/><stop offset="0.62" stop-color="#d8208a"/><stop offset="1" stop-color="#ff1a10"/></linearGradient></defs>
<rect x="638.4" y="388.4" width="8" height="41.8" fill="url(#pg)"/>
<line x1="638.4" y1="398" x2="640" y2="398" stroke="#fff" stroke-width="0.5"/>
<line x1="644.8" y1="398" x2="646.4" y2="398" stroke="#fff" stroke-width="0.5"/>
<text x="648.7" y="400.1" font-size="6.1" fill="#333" textLength="17" lengthAdjust="spacingAndGlyphs">0.075</text>
<line x1="638.4" y1="408.6" x2="640" y2="408.6" stroke="#fff" stroke-width="0.5"/>
<line x1="644.8" y1="408.6" x2="646.4" y2="408.6" stroke="#fff" stroke-width="0.5"/>
<text x="648.7" y="410.7" font-size="6.1" fill="#333" textLength="17" lengthAdjust="spacingAndGlyphs">0.050</text>
<line x1="638.4" y1="419.2" x2="640" y2="419.2" stroke="#fff" stroke-width="0.5"/>
<line x1="644.8" y1="419.2" x2="646.4" y2="419.2" stroke="#fff" stroke-width="0.5"/>
<text x="648.7" y="421.3" font-size="6.1" fill="#333" textLength="17" lengthAdjust="spacingAndGlyphs">0.025</text>
<text x="1.8" y="472.6" font-size="12.2" font-weight="bold">D</text>
<defs><filter id="bl" x="-20%" y="-50%" width="140%" height="200%"><feGaussianBlur stdDeviation="0.55"/></filter><filter id="bl2" x="-20%" y="-50%" width="140%" height="200%"><feGaussianBlur stdDeviation="0.9"/></filter><linearGradient id="sm" x1="0" y1="0" x2="0" y2="1"><stop offset="0" stop-color="#e3e3e3" stop-opacity="0"/><stop offset="1" stop-color="#999"/></linearGradient></defs>
<text x="86.8" y="489.6" font-size="12.4" text-anchor="middle" font-weight="bold" fill="#111">RH4</text>
<path d="M56.6 497.6V493.1H117.6V497.6" fill="none" stroke="#333" stroke-width="0.9"/>
<text x="65.1" y="529.3" font-size="10.0" text-anchor="middle" font-weight="bold" fill="#111" textLength="44.7" lengthAdjust="spacingAndGlyphs" transform="rotate(-90 65.1 525.9)" stroke="#111" stroke-width="0.3">si_Control</text>
<text x="86.2" y="533.2" font-size="10.0" text-anchor="middle" font-weight="bold" fill="#111" textLength="36.8" lengthAdjust="spacingAndGlyphs" transform="rotate(-90 86.2 529.8)" stroke="#111" stroke-width="0.3">siPRKG1</text>
<text x="107.4" y="531.3" font-size="10.0" text-anchor="middle" font-weight="bold" fill="#111" textLength="40.7" lengthAdjust="spacingAndGlyphs" transform="rotate(-90 107.4 527.9)" stroke="#111" stroke-width="0.3">siMYOD1</text>
<text x="131.5" y="551" font-size="9.8" text-anchor="middle" fill="#111" textLength="19.8" lengthAdjust="spacingAndGlyphs">(kDa)</text>
<rect x="58.4" y="559.3" width="60.2" height="17.7" fill="#e3e3e3" stroke="#3a3a3a" stroke-width="0.9"/>
<line x1="58.9" y1="575.9" x2="118.1" y2="575.9" stroke="#b8b8b8" stroke-width="1.2"/>
<rect x="58.4" y="581.4" width="60.2" height="17.7" fill="#e3e3e3" stroke="#3a3a3a" stroke-width="0.9"/>
<line x1="58.9" y1="598" x2="118.1" y2="598" stroke="#b8b8b8" stroke-width="1.2"/>
<rect x="58.4" y="603.2" width="60.2" height="18.4" fill="#e3e3e3" stroke="#3a3a3a" stroke-width="0.9"/>
<line x1="58.9" y1="620.5" x2="118.1" y2="620.5" stroke="#b8b8b8" stroke-width="1.2"/>
<rect x="58.4" y="626" width="60.2" height="18.3" fill="#e3e3e3" stroke="#3a3a3a" stroke-width="0.9"/>
<line x1="58.9" y1="643.2" x2="118.1" y2="643.2" stroke="#b8b8b8" stroke-width="1.2"/>
<line x1="120.4" y1="560" x2="123.8" y2="560" stroke="#222" stroke-width="1.0"/>
<text x="124.9" y="563.3" font-size="9.6" fill="#1a1a1a">55</text>
<line x1="120.4" y1="576.8" x2="123.8" y2="576.8" stroke="#222" stroke-width="1.0"/>
<text x="124.9" y="580.1" font-size="9.6" fill="#1a1a1a">35</text>
<line x1="120.4" y1="589.7" x2="123.8" y2="589.7" stroke="#222" stroke-width="1.0"/>
<text x="124.9" y="593" font-size="9.6" fill="#1a1a1a">55</text>
<line x1="120.4" y1="606.6" x2="123.8" y2="606.6" stroke="#222" stroke-width="1.0"/>
<text x="124.9" y="609.9" font-size="9.6" fill="#1a1a1a">100</text>
<line x1="120.4" y1="620.2" x2="123.8" y2="620.2" stroke="#222" stroke-width="1.0"/>
<text x="124.9" y="623.5" font-size="9.6" fill="#1a1a1a">70</text>
<line x1="120.4" y1="629" x2="123.8" y2="629" stroke="#222" stroke-width="1.0"/>
<text x="124.9" y="632.3" font-size="9.6" fill="#1a1a1a">55</text>
<line x1="120.4" y1="644.3" x2="123.8" y2="644.3" stroke="#222" stroke-width="1.0"/>
<text x="124.9" y="647.6" font-size="9.6" fill="#1a1a1a">35</text>
<g filter="url(#bl2)">
<rect x="100.3" y="604.5" width="14" height="9" fill="url(#sm)"/>
<rect x="60.5" y="604.5" width="14" height="9" fill="url(#sm)" opacity="0.5"/>
</g>
<g filter="url(#bl)">
<rect x="60.6" y="566.5" width="15.7" height="2.3" rx="1.1" fill="#333"/>
<rect x="60.6" y="569" width="15.7" height="2.5" rx="1.2" fill="#222"/>
<rect x="81.8" y="566.5" width="14.1" height="2.3" rx="1.1" fill="#333"/>
<rect x="81.8" y="568.9" width="14.1" height="2.7" rx="1.4" fill="#111"/>
<rect x="101.5" y="567.1" width="14" height="2" rx="1" fill="#999"/>
<rect x="101.5" y="570" width="14" height="2.2" rx="1.1" fill="#888"/>
<rect x="60.1" y="588.4" width="15.9" height="3.2" rx="1.6" fill="#111"/>
<rect x="80.3" y="588.6" width="14.6" height="2.9" rx="1.5" fill="#1a1a1a"/>
<rect x="99.5" y="588.4" width="15.8" height="3.3" rx="1.6" fill="#111"/>
<rect x="61.1" y="613.7" width="13.3" height="2.2" rx="1.1" fill="#6a6a6a"/>
<rect x="81" y="613.9" width="14" height="1.8" rx="0.9" fill="#cfcfcf"/>
<rect x="100" y="612.2" width="14.3" height="4" rx="2" fill="#0a0a0a"/>
<rect x="60.5" y="632.9" width="15" height="3" rx="1.5" fill="#111"/>
<rect x="80.5" y="633" width="14" height="2.8" rx="1.4" fill="#111"/>
<rect x="99.5" y="632.9" width="15" height="3.1" rx="1.5" fill="#111"/>
</g>
<text x="50.9" y="572.5" font-size="13.2" text-anchor="end" font-weight="bold" fill="#111" textLength="40.9" lengthAdjust="spacingAndGlyphs" stroke="#111" stroke-width="0.3">MYOD1</text>
<text x="48.4" y="594.4" font-size="13.2" text-anchor="end" font-weight="bold" fill="#111" textLength="39" lengthAdjust="spacingAndGlyphs" stroke="#111" stroke-width="0.3">Tubulin</text>
<text x="47.6" y="618.5" font-size="13.2" text-anchor="end" font-weight="bold" fill="#111" textLength="34.7" lengthAdjust="spacingAndGlyphs" stroke="#111" stroke-width="0.3">PRKG1</text>
<text x="49.1" y="639.5" font-size="13.2" text-anchor="end" font-weight="bold" fill="#111" textLength="37.9" lengthAdjust="spacingAndGlyphs" stroke="#111" stroke-width="0.3">B-Actin</text>
<text x="434.6" y="489.6" font-size="12.4" text-anchor="middle" font-weight="bold" fill="#111">RD</text>
<path d="M400.3 497.6V493.1H464.6V497.6" fill="none" stroke="#333" stroke-width="0.9"/>
<text x="415.9" y="527.1" font-size="10.0" text-anchor="middle" font-weight="bold" fill="#111" textLength="44.2" lengthAdjust="spacingAndGlyphs" transform="rotate(-90 415.9 523.7)" stroke="#111" stroke-width="0.3">si_Control</text>
<text x="435.4" y="531.2" font-size="10.0" text-anchor="middle" font-weight="bold" fill="#111" textLength="36.1" lengthAdjust="spacingAndGlyphs" transform="rotate(-90 435.4 527.8)" stroke="#111" stroke-width="0.3">siPRKG1</text>
<text x="453" y="529" font-size="10.0" text-anchor="middle" font-weight="bold" fill="#111" textLength="40.3" lengthAdjust="spacingAndGlyphs" transform="rotate(-90 453 525.6)" stroke="#111" stroke-width="0.3">siMYOD1</text>
<text x="477.5" y="551" font-size="9.8" text-anchor="middle" fill="#111" textLength="19.8" lengthAdjust="spacingAndGlyphs">(kDa)</text>
<rect x="404.4" y="559.3" width="60.2" height="17.9" fill="#e3e3e3" stroke="#3a3a3a" stroke-width="0.9"/>
<line x1="404.9" y1="576.1" x2="464.1" y2="576.1" stroke="#b8b8b8" stroke-width="1.2"/>
<rect x="404.4" y="581.4" width="60.2" height="17.6" fill="#e3e3e3" stroke="#3a3a3a" stroke-width="0.9"/>
<line x1="404.9" y1="597.9" x2="464.1" y2="597.9" stroke="#b8b8b8" stroke-width="1.2"/>
<rect x="404.4" y="603.3" width="60.2" height="17.9" fill="#e3e3e3" stroke="#3a3a3a" stroke-width="0.9"/>
<line x1="404.9" y1="620.1" x2="464.1" y2="620.1" stroke="#b8b8b8" stroke-width="1.2"/>
<rect x="404.4" y="626.1" width="60.2" height="18.4" fill="#e3e3e3" stroke="#3a3a3a" stroke-width="0.9"/>
<line x1="404.9" y1="643.4" x2="464.1" y2="643.4" stroke="#b8b8b8" stroke-width="1.2"/>
<line x1="466.4" y1="558.8" x2="469.8" y2="558.8" stroke="#222" stroke-width="1.0"/>
<text x="470.9" y="562.1" font-size="9.6" fill="#1a1a1a">55</text>
<line x1="466.4" y1="576.4" x2="469.8" y2="576.4" stroke="#222" stroke-width="1.0"/>
<text x="470.9" y="579.7" font-size="9.6" fill="#1a1a1a">35</text>
<line x1="466.4" y1="588.5" x2="469.8" y2="588.5" stroke="#222" stroke-width="1.0"/>
<text x="470.9" y="591.8" font-size="9.6" fill="#1a1a1a">55</text>
<line x1="466.4" y1="605.3" x2="469.8" y2="605.3" stroke="#222" stroke-width="1.0"/>
<text x="470.9" y="608.6" font-size="9.6" fill="#1a1a1a">100</text>
<line x1="466.4" y1="619.2" x2="469.8" y2="619.2" stroke="#222" stroke-width="1.0"/>
<text x="470.9" y="622.5" font-size="9.6" fill="#1a1a1a">70</text>
<line x1="466.4" y1="627.6" x2="469.8" y2="627.6" stroke="#222" stroke-width="1.0"/>
<text x="470.9" y="630.9" font-size="9.6" fill="#1a1a1a">55</text>
<line x1="466.4" y1="643.6" x2="469.8" y2="643.6" stroke="#222" stroke-width="1.0"/>
<text x="470.9" y="646.9" font-size="9.6" fill="#1a1a1a">35</text>
<g filter="url(#bl2)">
<rect x="446.3" y="604.5" width="14" height="9" fill="url(#sm)"/>
<rect x="406.5" y="604.5" width="14" height="9" fill="url(#sm)" opacity="0.5"/>
</g>
<g filter="url(#bl)">
<rect x="407.1" y="566.5" width="14.1" height="2.1" rx="1.1" fill="#8a8a8a"/>
<rect x="407.1" y="569.4" width="14.1" height="2.2" rx="1.1" fill="#7a7a7a"/>
<rect x="427.1" y="565.4" width="14.1" height="2.1" rx="1.1" fill="#7a7a7a"/>
<rect x="427.1" y="568.6" width="14.1" height="2.2" rx="1.1" fill="#888"/>
<rect x="448" y="565.3" width="14" height="1.8" rx="0.9" fill="#d2d2d2"/>
<rect x="448" y="568.7" width="14" height="1.8" rx="0.9" fill="#d0d0d0"/>
<rect x="406" y="589.2" width="15.2" height="3.2" rx="1.6" fill="#111"/>
<rect x="425.5" y="588.5" width="16.3" height="3.1" rx="1.5" fill="#151515"/>
<rect x="446.7" y="588" width="15.7" height="3.1" rx="1.5" fill="#1a1a1a"/>
<rect x="406.5" y="613.5" width="15.2" height="2.1" rx="1.1" fill="#333"/>
<rect x="426.6" y="613.6" width="14.6" height="1.7" rx="0.9" fill="#9a9a9a"/>
<rect x="446.7" y="612.2" width="15.7" height="2.8" rx="1.4" fill="#111"/>
<rect x="406.5" y="633.8" width="15.7" height="3.4" rx="1.7" fill="#0a0a0a"/>
<rect x="425.5" y="633.4" width="16.3" height="3.3" rx="1.6" fill="#0a0a0a"/>
<rect x="445" y="632.6" width="17.4" height="3.4" rx="1.7" fill="#0a0a0a"/>
</g>
<text x="395.2" y="572.5" font-size="13.2" text-anchor="end" font-weight="bold" fill="#111" textLength="40.7" lengthAdjust="spacingAndGlyphs" stroke="#111" stroke-width="0.3">MYOD1</text>
<text x="392.5" y="595.3" font-size="13.2" text-anchor="end" font-weight="bold" fill="#111" textLength="39.5" lengthAdjust="spacingAndGlyphs" stroke="#111" stroke-width="0.3">Tubulin</text>
<text x="391.2" y="618.5" font-size="13.2" text-anchor="end" font-weight="bold" fill="#111" textLength="34.2" lengthAdjust="spacingAndGlyphs" stroke="#111" stroke-width="0.3">PRKG1</text>
<text x="393.9" y="640.3" font-size="13.2" text-anchor="end" font-weight="bold" fill="#111" textLength="39.4" lengthAdjust="spacingAndGlyphs" stroke="#111" stroke-width="0.3">B-Actin</text>
<text x="223.6" y="545.7" font-size="7.9" text-anchor="middle" font-weight="bold" fill="#111">RH4_Protein levels</text>
<line x1="180" y1="638.2" x2="183" y2="638.2" stroke="#222" stroke-width="0.9"/>
<text x="178.8" y="640.5" font-size="6.6" text-anchor="end" font-weight="bold" fill="#222">0</text>
<line x1="180" y1="610.8" x2="183" y2="610.8" stroke="#222" stroke-width="0.9"/>
<text x="178.8" y="613.1" font-size="6.6" text-anchor="end" font-weight="bold" fill="#222">1</text>
<line x1="180" y1="583.5" x2="183" y2="583.5" stroke="#222" stroke-width="0.9"/>
<text x="178.8" y="585.7" font-size="6.6" text-anchor="end" font-weight="bold" fill="#222">2</text>
<line x1="180" y1="556.1" x2="183" y2="556.1" stroke="#222" stroke-width="0.9"/>
<text x="178.8" y="558.4" font-size="6.6" text-anchor="end" font-weight="bold" fill="#222">3</text>
<rect x="187" y="610.8" width="7.6" height="27.4" fill="#33197a"/>
<rect x="199.1" y="604.8" width="7.6" height="33.4" fill="#7d2a8e"/>
<rect x="210" y="623.7" width="8" height="14.5" fill="#d52a72"/>
<rect x="230.2" y="610.8" width="7.6" height="27.4" fill="#33197a"/>
<rect x="241.8" y="630.1" width="7.6" height="8.1" fill="#7d2a8e"/>
<rect x="253.4" y="572" width="7.6" height="66.2" fill="#d52a72"/>
<line x1="183" y1="556.1" x2="183" y2="638.6" stroke="#222" stroke-width="0.9"/>
<line x1="183" y1="638.2" x2="266.1" y2="638.2" stroke="#222" stroke-width="0.9"/>
<line x1="202.3" y1="638.2" x2="202.3" y2="641" stroke="#222" stroke-width="0.9"/>
<text x="202.3" y="648" font-size="6.5" text-anchor="middle" font-weight="bold" fill="#222">MYOD1</text>
<line x1="245.5" y1="638.2" x2="245.5" y2="641" stroke="#222" stroke-width="0.9"/>
<text x="245.5" y="648" font-size="6.5" text-anchor="middle" font-weight="bold" fill="#222">PRKG1</text>
<text x="160.3" y="599.7" font-size="6.56" text-anchor="middle" font-weight="bold" fill="#222" textLength="78.3" lengthAdjust="spacingAndGlyphs" transform="rotate(-90 160.3 597.4)">Fold change total protein</text>
<text x="169.4" y="599.7" font-size="6.56" text-anchor="middle" font-weight="bold" fill="#222" textLength="59.4" lengthAdjust="spacingAndGlyphs" transform="rotate(-90 169.4 597.4)">relative to control</text>
<rect x="284.2" y="559.8" width="8.5" height="4.4" fill="#33197a"/>
<text x="296.6" y="564.4" font-size="6.85" fill="#222">si Control</text>
<rect x="284.2" y="570.6" width="8.5" height="4.4" fill="#7d2a8e"/>
<text x="296.6" y="575.2" font-size="6.85" fill="#222">si PRKG1</text>
<rect x="284.2" y="581.9" width="8.5" height="4.4" fill="#d52a72"/>
<text x="296.6" y="586.5" font-size="6.85" fill="#222">si MYOD1</text>
<text x="581.9" y="550.2" font-size="7.9" text-anchor="middle" font-weight="bold" fill="#111">RD_Protein levels</text>
<line x1="538" y1="642.3" x2="541" y2="642.3" stroke="#222" stroke-width="0.9"/>
<text x="536.8" y="644.6" font-size="6.6" text-anchor="end" font-weight="bold" fill="#222">0.0</text>
<line x1="538" y1="626" x2="541" y2="626" stroke="#222" stroke-width="0.9"/>
<text x="536.8" y="628.3" font-size="6.6" text-anchor="end" font-weight="bold" fill="#222">0.5</text>
<line x1="538" y1="609.7" x2="541" y2="609.7" stroke="#222" stroke-width="0.9"/>
<text x="536.8" y="612" font-size="6.6" text-anchor="end" font-weight="bold" fill="#222">1.0</text>
<line x1="538" y1="593.4" x2="541" y2="593.4" stroke="#222" stroke-width="0.9"/>
<text x="536.8" y="595.7" font-size="6.6" text-anchor="end" font-weight="bold" fill="#222">1.5</text>
<line x1="538" y1="577.1" x2="541" y2="577.1" stroke="#222" stroke-width="0.9"/>
<text x="536.8" y="579.4" font-size="6.6" text-anchor="end" font-weight="bold" fill="#222">2.0</text>
<line x1="538" y1="560.8" x2="541" y2="560.8" stroke="#222" stroke-width="0.9"/>
<text x="536.8" y="563.1" font-size="6.6" text-anchor="end" font-weight="bold" fill="#222">2.5</text>
<line x1="541" y1="609.7" x2="622.1" y2="609.7" stroke="#999" stroke-width="0.6" stroke-dasharray="1.5 1"/>
<rect x="545.4" y="609.7" width="7.3" height="32.6" fill="#33197a"/>
<rect x="557.3" y="610.7" width="7" height="31.6" fill="#7d2a8e"/>
<rect x="568.3" y="634.8" width="7.3" height="7.5" fill="#d52a72"/>
<rect x="587.2" y="609.7" width="7.3" height="32.6" fill="#33197a"/>
<rect x="599.1" y="632.8" width="7" height="9.5" fill="#7d2a8e"/>
<rect x="610.2" y="575.1" width="7.5" height="67.2" fill="#d52a72"/>
<line x1="541" y1="560.8" x2="541" y2="642.7" stroke="#222" stroke-width="0.9"/>
<line x1="541" y1="642.3" x2="622.1" y2="642.3" stroke="#222" stroke-width="0.9"/>
<line x1="560" y1="642.3" x2="560" y2="645.1" stroke="#222" stroke-width="0.9"/>
<text x="560" y="652.1" font-size="6.5" text-anchor="middle" font-weight="bold" fill="#222">MYOD1</text>
<line x1="602.6" y1="642.3" x2="602.6" y2="645.1" stroke="#222" stroke-width="0.9"/>
<text x="602.6" y="652.1" font-size="6.5" text-anchor="middle" font-weight="bold" fill="#222">PRKG1</text>
<text x="509.5" y="604.1" font-size="6.56" text-anchor="middle" font-weight="bold" fill="#222" textLength="78.3" lengthAdjust="spacingAndGlyphs" transform="rotate(-90 509.5 601.8)">Fold change total protein</text>
<text x="518.6" y="604.1" font-size="6.56" text-anchor="middle" font-weight="bold" fill="#222" textLength="59.4" lengthAdjust="spacingAndGlyphs" transform="rotate(-90 518.6 601.8)">relative to control</text>
<rect x="641" y="563" width="8.5" height="4.4" fill="#33197a"/>
<text x="653.4" y="567.6" font-size="6.85" fill="#222">si Control</text>
<rect x="641" y="574.7" width="8.5" height="4.4" fill="#7d2a8e"/>
<text x="653.4" y="579.3" font-size="6.85" fill="#222">si PRKG1</text>
<rect x="641" y="586" width="8.5" height="4.4" fill="#d52a72"/>
<text x="653.4" y="590.6" font-size="6.85" fill="#222">si MYOD1</text>
<text x="1.5" y="675.6" font-size="12.2" font-weight="bold">E</text>
<text x="185.5" y="703.2" font-size="10.9" text-anchor="middle" font-weight="bold" fill="#111">RH4</text>
<text x="50" y="768.4" font-size="8.9" text-anchor="middle" font-weight="bold" fill="#111" textLength="40.5" lengthAdjust="spacingAndGlyphs" transform="rotate(-90 50 765.3)">FC mRNA</text>
<line x1="70" y1="738.3" x2="70" y2="831.7" stroke="#111" stroke-width="1.5"/>
<line x1="70" y1="738.3" x2="70" y2="830.9" stroke="#111" stroke-width="1.5"/>
<line x1="70" y1="698" x2="70" y2="729.8" stroke="#111" stroke-width="1.5"/>
<line x1="67.4" y1="729.8" x2="72.6" y2="729.8" stroke="#111" stroke-width="1.4"/>
<line x1="67.4" y1="738.3" x2="72.6" y2="738.3" stroke="#111" stroke-width="1.4"/>
<line x1="65" y1="830.9" x2="70" y2="830.9" stroke="#111" stroke-width="1.4"/>
<text x="63.4" y="833.7" font-size="8.0" text-anchor="end" font-weight="bold" fill="#111">0</text>
<line x1="65" y1="800" x2="70" y2="800" stroke="#111" stroke-width="1.4"/>
<text x="63.4" y="802.8" font-size="8.0" text-anchor="end" font-weight="bold" fill="#111">1</text>
<line x1="65" y1="769.1" x2="70" y2="769.1" stroke="#111" stroke-width="1.4"/>
<text x="63.4" y="771.9" font-size="8.0" text-anchor="end" font-weight="bold" fill="#111">2</text>
<line x1="65" y1="738.2" x2="70" y2="738.2" stroke="#111" stroke-width="1.4"/>
<text x="63.4" y="741" font-size="8.0" text-anchor="end" font-weight="bold" fill="#111">3</text>
<line x1="65" y1="724.7" x2="70" y2="724.7" stroke="#111" stroke-width="1.4"/>
<text x="63.4" y="727.5" font-size="8.0" text-anchor="end" font-weight="bold" fill="#111">4</text>
<line x1="65" y1="711.7" x2="70" y2="711.7" stroke="#111" stroke-width="1.4"/>
<text x="63.4" y="714.5" font-size="8.0" text-anchor="end" font-weight="bold" fill="#111">6</text>
<line x1="65" y1="698.7" x2="70" y2="698.7" stroke="#111" stroke-width="1.4"/>
<text x="63.4" y="701.5" font-size="8.0" text-anchor="end" font-weight="bold" fill="#111">8</text>
<rect x="75.2" y="800.9" width="6.5" height="30" fill="#8b93d8" stroke="#3b1f9e" stroke-width="1.7"/>
<circle cx="78.4" cy="800" r="2.6" fill="#1c0f96"/>
<circle cx="78.4" cy="800" r="2.6" fill="#1c0f96"/>
<rect x="88" y="774.9" width="6.5" height="56" fill="#c48cc4" stroke="#7a1a8e" stroke-width="1.7"/>
<rect x="88.6" y="763.3" width="5.4" height="5.4" fill="#7a1a8e"/>
<rect x="88.6" y="775.1" width="5.4" height="5.4" fill="#7a1a8e"/>
<rect x="100.9" y="817.5" width="6.5" height="13.4" fill="#d88ab0" stroke="#d82a78" stroke-width="1.7"/>
<path d="M104.1 812.1l2.9 5h-5.8z" fill="#d82a78"/>
<path d="M104.1 814.6l2.9 5h-5.8z" fill="#d82a78"/>
<line x1="91.2" y1="830.9" x2="91.2" y2="834.9" stroke="#111" stroke-width="1.3"/>
<text x="91.2" y="845.3" font-size="8.5" text-anchor="middle" font-weight="bold" fill="#111">MYL1</text>
<rect x="122" y="800.9" width="6.5" height="30" fill="#8b93d8" stroke="#3b1f9e" stroke-width="1.7"/>
<circle cx="125.3" cy="800" r="2.6" fill="#1c0f96"/>
<circle cx="125.3" cy="800" r="2.6" fill="#1c0f96"/>
<rect x="134.9" y="787.9" width="6.5" height="43" fill="#c48cc4" stroke="#7a1a8e" stroke-width="1.7"/>
<rect x="135.5" y="781.2" width="5.4" height="5.4" fill="#7a1a8e"/>
<rect x="135.5" y="785.6" width="5.4" height="5.4" fill="#7a1a8e"/>
<rect x="147.8" y="830.5" width="6.5" height="0.4" fill="#d88ab0" stroke="#d82a78" stroke-width="1.7"/>
<path d="M151 826.1l2.9 5h-5.8z" fill="#d82a78"/>
<path d="M151 826.7l2.9 5h-5.8z" fill="#d82a78"/>
<line x1="138.1" y1="830.9" x2="138.1" y2="834.9" stroke="#111" stroke-width="1.3"/>
<text x="138.1" y="845.3" font-size="8.5" text-anchor="middle" font-weight="bold" fill="#111">TNNI1</text>
<rect x="169" y="800.9" width="6.5" height="30" fill="#8b93d8" stroke="#3b1f9e" stroke-width="1.7"/>
<circle cx="172.3" cy="800" r="2.6" fill="#1c0f96"/>
<circle cx="172.3" cy="800" r="2.6" fill="#1c0f96"/>
<rect x="181.9" y="738.3" width="6.5" height="92.6" fill="#c48cc4"/>
<path d="M181.9 738.3V830.9M188.4 738.3V830.9" stroke="#7a1a8e" stroke-width="1.7" fill="none"/>
<rect x="181.9" y="727.2" width="6.5" height="2.6" fill="#c48cc4"/>
<path d="M181.9 729.8V727.2H188.4V729.8" stroke="#7a1a8e" stroke-width="1.7" fill="none"/>
<rect x="182.5" y="712.2" width="5.4" height="5.4" fill="#7a1a8e"/>
<rect x="182.5" y="777.2" width="5.4" height="5.4" fill="#7a1a8e"/>
<rect x="194.8" y="812.3" width="6.5" height="18.6" fill="#d88ab0" stroke="#d82a78" stroke-width="1.7"/>
<path d="M198 804.1l2.9 5h-5.8z" fill="#d82a78"/>
<path d="M198 811.5l2.9 5h-5.8z" fill="#d82a78"/>
<line x1="185.1" y1="830.9" x2="185.1" y2="834.9" stroke="#111" stroke-width="1.3"/>
<text x="185.1" y="845.3" font-size="8.5" text-anchor="middle" font-weight="bold" fill="#111">TNNT3</text>
<rect x="215.8" y="800.9" width="6.5" height="30" fill="#8b93d8" stroke="#3b1f9e" stroke-width="1.7"/>
<circle cx="219.1" cy="800" r="2.6" fill="#1c0f96"/>
<circle cx="219.1" cy="800" r="2.6" fill="#1c0f96"/>
<rect x="228.8" y="790.7" width="6.5" height="40.2" fill="#c48cc4" stroke="#7a1a8e" stroke-width="1.7"/>
<rect x="229.3" y="770.1" width="5.4" height="5.4" fill="#7a1a8e"/>
<rect x="229.3" y="803.5" width="5.4" height="5.4" fill="#7a1a8e"/>
<rect x="241.6" y="809.2" width="6.5" height="21.7" fill="#d88ab0" stroke="#d82a78" stroke-width="1.7"/>
<path d="M244.8 802.9l2.9 5h-5.8z" fill="#d82a78"/>
<path d="M244.8 806l2.9 5h-5.8z" fill="#d82a78"/>
<line x1="231.9" y1="830.9" x2="231.9" y2="834.9" stroke="#111" stroke-width="1.3"/>
<text x="231.9" y="845.3" font-size="8.5" text-anchor="middle" font-weight="bold" fill="#111">MYL4</text>
<rect x="262.6" y="800.9" width="6.5" height="30" fill="#8b93d8" stroke="#3b1f9e" stroke-width="1.7"/>
<circle cx="265.9" cy="800" r="2.6" fill="#1c0f96"/>
<circle cx="265.9" cy="800" r="2.6" fill="#1c0f96"/>
<rect x="275.6" y="798.4" width="6.5" height="32.5" fill="#c48cc4" stroke="#7a1a8e" stroke-width="1.7"/>
<rect x="276.1" y="785.6" width="5.4" height="5.4" fill="#7a1a8e"/>
<rect x="276.1" y="802.9" width="5.4" height="5.4" fill="#7a1a8e"/>
<rect x="288.3" y="814.4" width="6.5" height="16.5" fill="#d88ab0" stroke="#d82a78" stroke-width="1.7"/>
<path d="M291.6 799.8l2.9 5h-5.8z" fill="#d82a78"/>
<path d="M291.6 821.4l2.9 5h-5.8z" fill="#d82a78"/>
<line x1="278.7" y1="830.9" x2="278.7" y2="834.9" stroke="#111" stroke-width="1.3"/>
<text x="278.7" y="845.3" font-size="8.5" text-anchor="middle" font-weight="bold" fill="#111">MYOH8</text>
<line x1="69.3" y1="830.9" x2="301.9" y2="830.9" stroke="#111" stroke-width="1.5"/>
<text x="509.6" y="698.9" font-size="10.9" text-anchor="middle" font-weight="bold" fill="#111">RD</text>
<text x="367" y="771.2" font-size="8.9" text-anchor="middle" font-weight="bold" fill="#111" textLength="42.2" lengthAdjust="spacingAndGlyphs" transform="rotate(-90 367 768.1)">FC mRNA</text>
<line x1="394.3" y1="773" x2="394.3" y2="837.1" stroke="#111" stroke-width="1.5"/>
<line x1="394.3" y1="773.1" x2="394.3" y2="836.3" stroke="#111" stroke-width="1.5"/>
<line x1="394.3" y1="700.6" x2="394.3" y2="764.4" stroke="#111" stroke-width="1.5"/>
<line x1="391.7" y1="764.4" x2="396.9" y2="764.4" stroke="#111" stroke-width="1.4"/>
<line x1="391.7" y1="773" x2="396.9" y2="773" stroke="#111" stroke-width="1.4"/>
<line x1="389.3" y1="836.3" x2="394.3" y2="836.3" stroke="#111" stroke-width="1.4"/>
<text x="387.7" y="839.1" font-size="8.0" text-anchor="end" font-weight="bold" fill="#111">0.0</text>
<line x1="389.3" y1="820.5" x2="394.3" y2="820.5" stroke="#111" stroke-width="1.4"/>
<text x="387.7" y="823.2" font-size="8.0" text-anchor="end" font-weight="bold" fill="#111">0.5</text>
<line x1="389.3" y1="804.6" x2="394.3" y2="804.6" stroke="#111" stroke-width="1.4"/>
<text x="387.7" y="807.4" font-size="8.0" text-anchor="end" font-weight="bold" fill="#111">1.0</text>
<line x1="389.3" y1="788.8" x2="394.3" y2="788.8" stroke="#111" stroke-width="1.4"/>
<text x="387.7" y="791.6" font-size="8.0" text-anchor="end" font-weight="bold" fill="#111">1.5</text>
<line x1="389.3" y1="773" x2="394.3" y2="773" stroke="#111" stroke-width="1.4"/>
<text x="387.7" y="775.8" font-size="8.0" text-anchor="end" font-weight="bold" fill="#111">2.0</text>
<line x1="389.3" y1="751.2" x2="394.3" y2="751.2" stroke="#111" stroke-width="1.4"/>
<text x="387.7" y="754" font-size="8.0" text-anchor="end" font-weight="bold" fill="#111">10</text>
<line x1="389.3" y1="734.5" x2="394.3" y2="734.5" stroke="#111" stroke-width="1.4"/>
<text x="387.7" y="737.3" font-size="8.0" text-anchor="end" font-weight="bold" fill="#111">20</text>
<line x1="389.3" y1="717.8" x2="394.3" y2="717.8" stroke="#111" stroke-width="1.4"/>
<text x="387.7" y="720.6" font-size="8.0" text-anchor="end" font-weight="bold" fill="#111">30</text>
<line x1="389.3" y1="701.1" x2="394.3" y2="701.1" stroke="#111" stroke-width="1.4"/>
<text x="387.7" y="703.9" font-size="8.0" text-anchor="end" font-weight="bold" fill="#111">40</text>
<rect x="399.9" y="805.5" width="6.5" height="30.8" fill="#8b93d8" stroke="#3b1f9e" stroke-width="1.7"/>
<circle cx="403.2" cy="804.6" r="2.6" fill="#1c0f96"/>
<circle cx="403.2" cy="804.6" r="2.6" fill="#1c0f96"/>
<rect x="412.7" y="773" width="6.5" height="63.3" fill="#c48cc4"/>
<path d="M412.7 773V836.3M419.2 773V836.3" stroke="#7a1a8e" stroke-width="1.7" fill="none"/>
<rect x="412.7" y="727.8" width="6.5" height="36.6" fill="#c48cc4"/>
<path d="M412.7 764.4V727.8H419.2V764.4" stroke="#7a1a8e" stroke-width="1.7" fill="none"/>
<rect x="413.2" y="719.3" width="5.4" height="5.4" fill="#7a1a8e"/>
<rect x="413.2" y="726.8" width="5.4" height="5.4" fill="#7a1a8e"/>
<rect x="425.2" y="834" width="6.5" height="2.3" fill="#d88ab0" stroke="#d82a78" stroke-width="1.7"/>
<path d="M428.4 828.3l2.9 5h-5.8z" fill="#d82a78"/>
<path d="M428.4 829.8l2.9 5h-5.8z" fill="#d82a78"/>
<line x1="415.8" y1="836.3" x2="415.8" y2="840.3" stroke="#111" stroke-width="1.3"/>
<text x="415.8" y="850.7" font-size="8.5" text-anchor="middle" font-weight="bold" fill="#111">MYL1</text>
<rect x="445.8" y="805.5" width="6.5" height="30.8" fill="#8b93d8" stroke="#3b1f9e" stroke-width="1.7"/>
<circle cx="449.1" cy="804.6" r="2.6" fill="#1c0f96"/>
<circle cx="449.1" cy="804.6" r="2.6" fill="#1c0f96"/>
<rect x="458.6" y="773" width="6.5" height="63.3" fill="#c48cc4"/>
<path d="M458.6 773V836.3M465.1 773V836.3" stroke="#7a1a8e" stroke-width="1.7" fill="none"/>
<rect x="458.6" y="756.4" width="6.5" height="8" fill="#c48cc4"/>
<path d="M458.6 764.4V756.4H465.1V764.4" stroke="#7a1a8e" stroke-width="1.7" fill="none"/>
<rect x="459.1" y="750.5" width="5.4" height="5.4" fill="#7a1a8e"/>
<rect x="459.1" y="753.5" width="5.4" height="5.4" fill="#7a1a8e"/>
<rect x="471.1" y="834" width="6.5" height="2.3" fill="#d88ab0" stroke="#d82a78" stroke-width="1.7"/>
<path d="M474.3 828.3l2.9 5h-5.8z" fill="#d82a78"/>
<path d="M474.3 829.8l2.9 5h-5.8z" fill="#d82a78"/>
<line x1="461.7" y1="836.3" x2="461.7" y2="840.3" stroke="#111" stroke-width="1.3"/>
<text x="461.7" y="850.7" font-size="8.5" text-anchor="middle" font-weight="bold" fill="#111">TNNI1</text>
<rect x="491.9" y="805.5" width="6.5" height="30.8" fill="#8b93d8" stroke="#3b1f9e" stroke-width="1.7"/>
<circle cx="495.2" cy="804.6" r="2.6" fill="#1c0f96"/>
<circle cx="495.2" cy="804.6" r="2.6" fill="#1c0f96"/>
<rect x="504.7" y="773" width="6.5" height="63.3" fill="#c48cc4"/>
<path d="M504.7 773V836.3M511.1 773V836.3" stroke="#7a1a8e" stroke-width="1.7" fill="none"/>
<rect x="504.7" y="756.4" width="6.5" height="8" fill="#c48cc4"/>
<path d="M504.7 764.4V756.4H511.1V764.4" stroke="#7a1a8e" stroke-width="1.7" fill="none"/>
<rect x="505.2" y="750.2" width="5.4" height="5.4" fill="#7a1a8e"/>
<rect x="505.2" y="754.2" width="5.4" height="5.4" fill="#7a1a8e"/>
<rect x="517.1" y="809" width="6.5" height="27.3" fill="#d88ab0" stroke="#d82a78" stroke-width="1.7"/>
<path d="M520.4 799.5l2.9 5h-5.8z" fill="#d82a78"/>
<path d="M520.4 807.7l2.9 5h-5.8z" fill="#d82a78"/>
<line x1="507.8" y1="836.3" x2="507.8" y2="840.3" stroke="#111" stroke-width="1.3"/>
<text x="507.8" y="850.7" font-size="8.5" text-anchor="middle" font-weight="bold" fill="#111">TNNT3</text>
<rect x="538" y="805.5" width="6.5" height="30.8" fill="#8b93d8" stroke="#3b1f9e" stroke-width="1.7"/>
<circle cx="541.3" cy="804.6" r="2.6" fill="#1c0f96"/>
<circle cx="541.3" cy="804.6" r="2.6" fill="#1c0f96"/>
<rect x="550.8" y="773" width="6.5" height="63.3" fill="#c48cc4"/>
<path d="M550.8 773V836.3M557.2 773V836.3" stroke="#7a1a8e" stroke-width="1.7" fill="none"/>
<rect x="550.8" y="756.7" width="6.5" height="7.7" fill="#c48cc4"/>
<path d="M550.8 764.4V756.7H557.2V764.4" stroke="#7a1a8e" stroke-width="1.7" fill="none"/>
<rect x="551.3" y="751" width="5.4" height="5.4" fill="#7a1a8e"/>
<rect x="551.3" y="754.5" width="5.4" height="5.4" fill="#7a1a8e"/>
<rect x="563.2" y="805.8" width="6.5" height="30.5" fill="#d88ab0" stroke="#d82a78" stroke-width="1.7"/>
<path d="M566.5 797.2l2.9 5h-5.8z" fill="#d82a78"/>
<path d="M566.5 806.4l2.9 5h-5.8z" fill="#d82a78"/>
<line x1="553.9" y1="836.3" x2="553.9" y2="840.3" stroke="#111" stroke-width="1.3"/>
<text x="553.9" y="850.7" font-size="8.5" text-anchor="middle" font-weight="bold" fill="#111">MYL4</text>
<rect x="584" y="805.5" width="6.5" height="30.8" fill="#8b93d8" stroke="#3b1f9e" stroke-width="1.7"/>
<circle cx="587.3" cy="804.6" r="2.6" fill="#1c0f96"/>
<circle cx="587.3" cy="804.6" r="2.6" fill="#1c0f96"/>
<rect x="596.8" y="773" width="6.5" height="63.3" fill="#c48cc4"/>
<path d="M596.8 773V836.3M603.2 773V836.3" stroke="#7a1a8e" stroke-width="1.7" fill="none"/>
<rect x="596.8" y="752.4" width="6.5" height="12" fill="#c48cc4"/>
<path d="M596.8 764.4V752.4H603.2V764.4" stroke="#7a1a8e" stroke-width="1.7" fill="none"/>
<rect x="597.3" y="748.2" width="5.4" height="5.4" fill="#7a1a8e"/>
<rect x="597.3" y="749.5" width="5.4" height="5.4" fill="#7a1a8e"/>
<path d="M612.5 832.4l2.9 5h-5.8z" fill="#d82a78"/>
<line x1="599.9" y1="836.3" x2="599.9" y2="840.3" stroke="#111" stroke-width="1.3"/>
<text x="599.9" y="850.7" font-size="8.5" text-anchor="middle" font-weight="bold" fill="#111">MYOH8</text>
<line x1="393.6" y1="836.3" x2="622.4" y2="836.3" stroke="#111" stroke-width="1.5"/>
<rect x="62.8" y="862.9" width="10" height="4.8" fill="#8b93d8" stroke="#3b1f9e" stroke-width="1.5"/>
<text x="79.8" y="868.6" font-size="9.5" fill="#222">siMOCK</text>
<rect x="149.8" y="862.9" width="10" height="4.8" fill="#c48cc4" stroke="#7a1a8e" stroke-width="1.5"/>
<text x="167.1" y="868.6" font-size="9.5" fill="#222">siPRKG1</text>
<rect x="233.4" y="862.9" width="10" height="4.8" fill="#d88ab0" stroke="#d82a78" stroke-width="1.5"/>
<text x="251" y="868.6" font-size="9.5" fill="#222">siMYOD1</text>
<rect x="400.5" y="867.4" width="10" height="4.8" fill="#8b93d8" stroke="#3b1f9e" stroke-width="1.5"/>
<text x="418" y="873.1" font-size="9.5" fill="#222">siMOCK</text>
<rect x="474.9" y="867.4" width="10" height="4.8" fill="#c48cc4" stroke="#7a1a8e" stroke-width="1.5"/>
<text x="492.7" y="873.1" font-size="9.5" fill="#222">siPRKG1</text>
<rect x="557.4" y="867.4" width="10" height="4.8" fill="#d88ab0" stroke="#d82a78" stroke-width="1.5"/>
<text x="574.7" y="873.1" font-size="9.5" fill="#222">siMYOD1</text>
</svg>
</body></html>
